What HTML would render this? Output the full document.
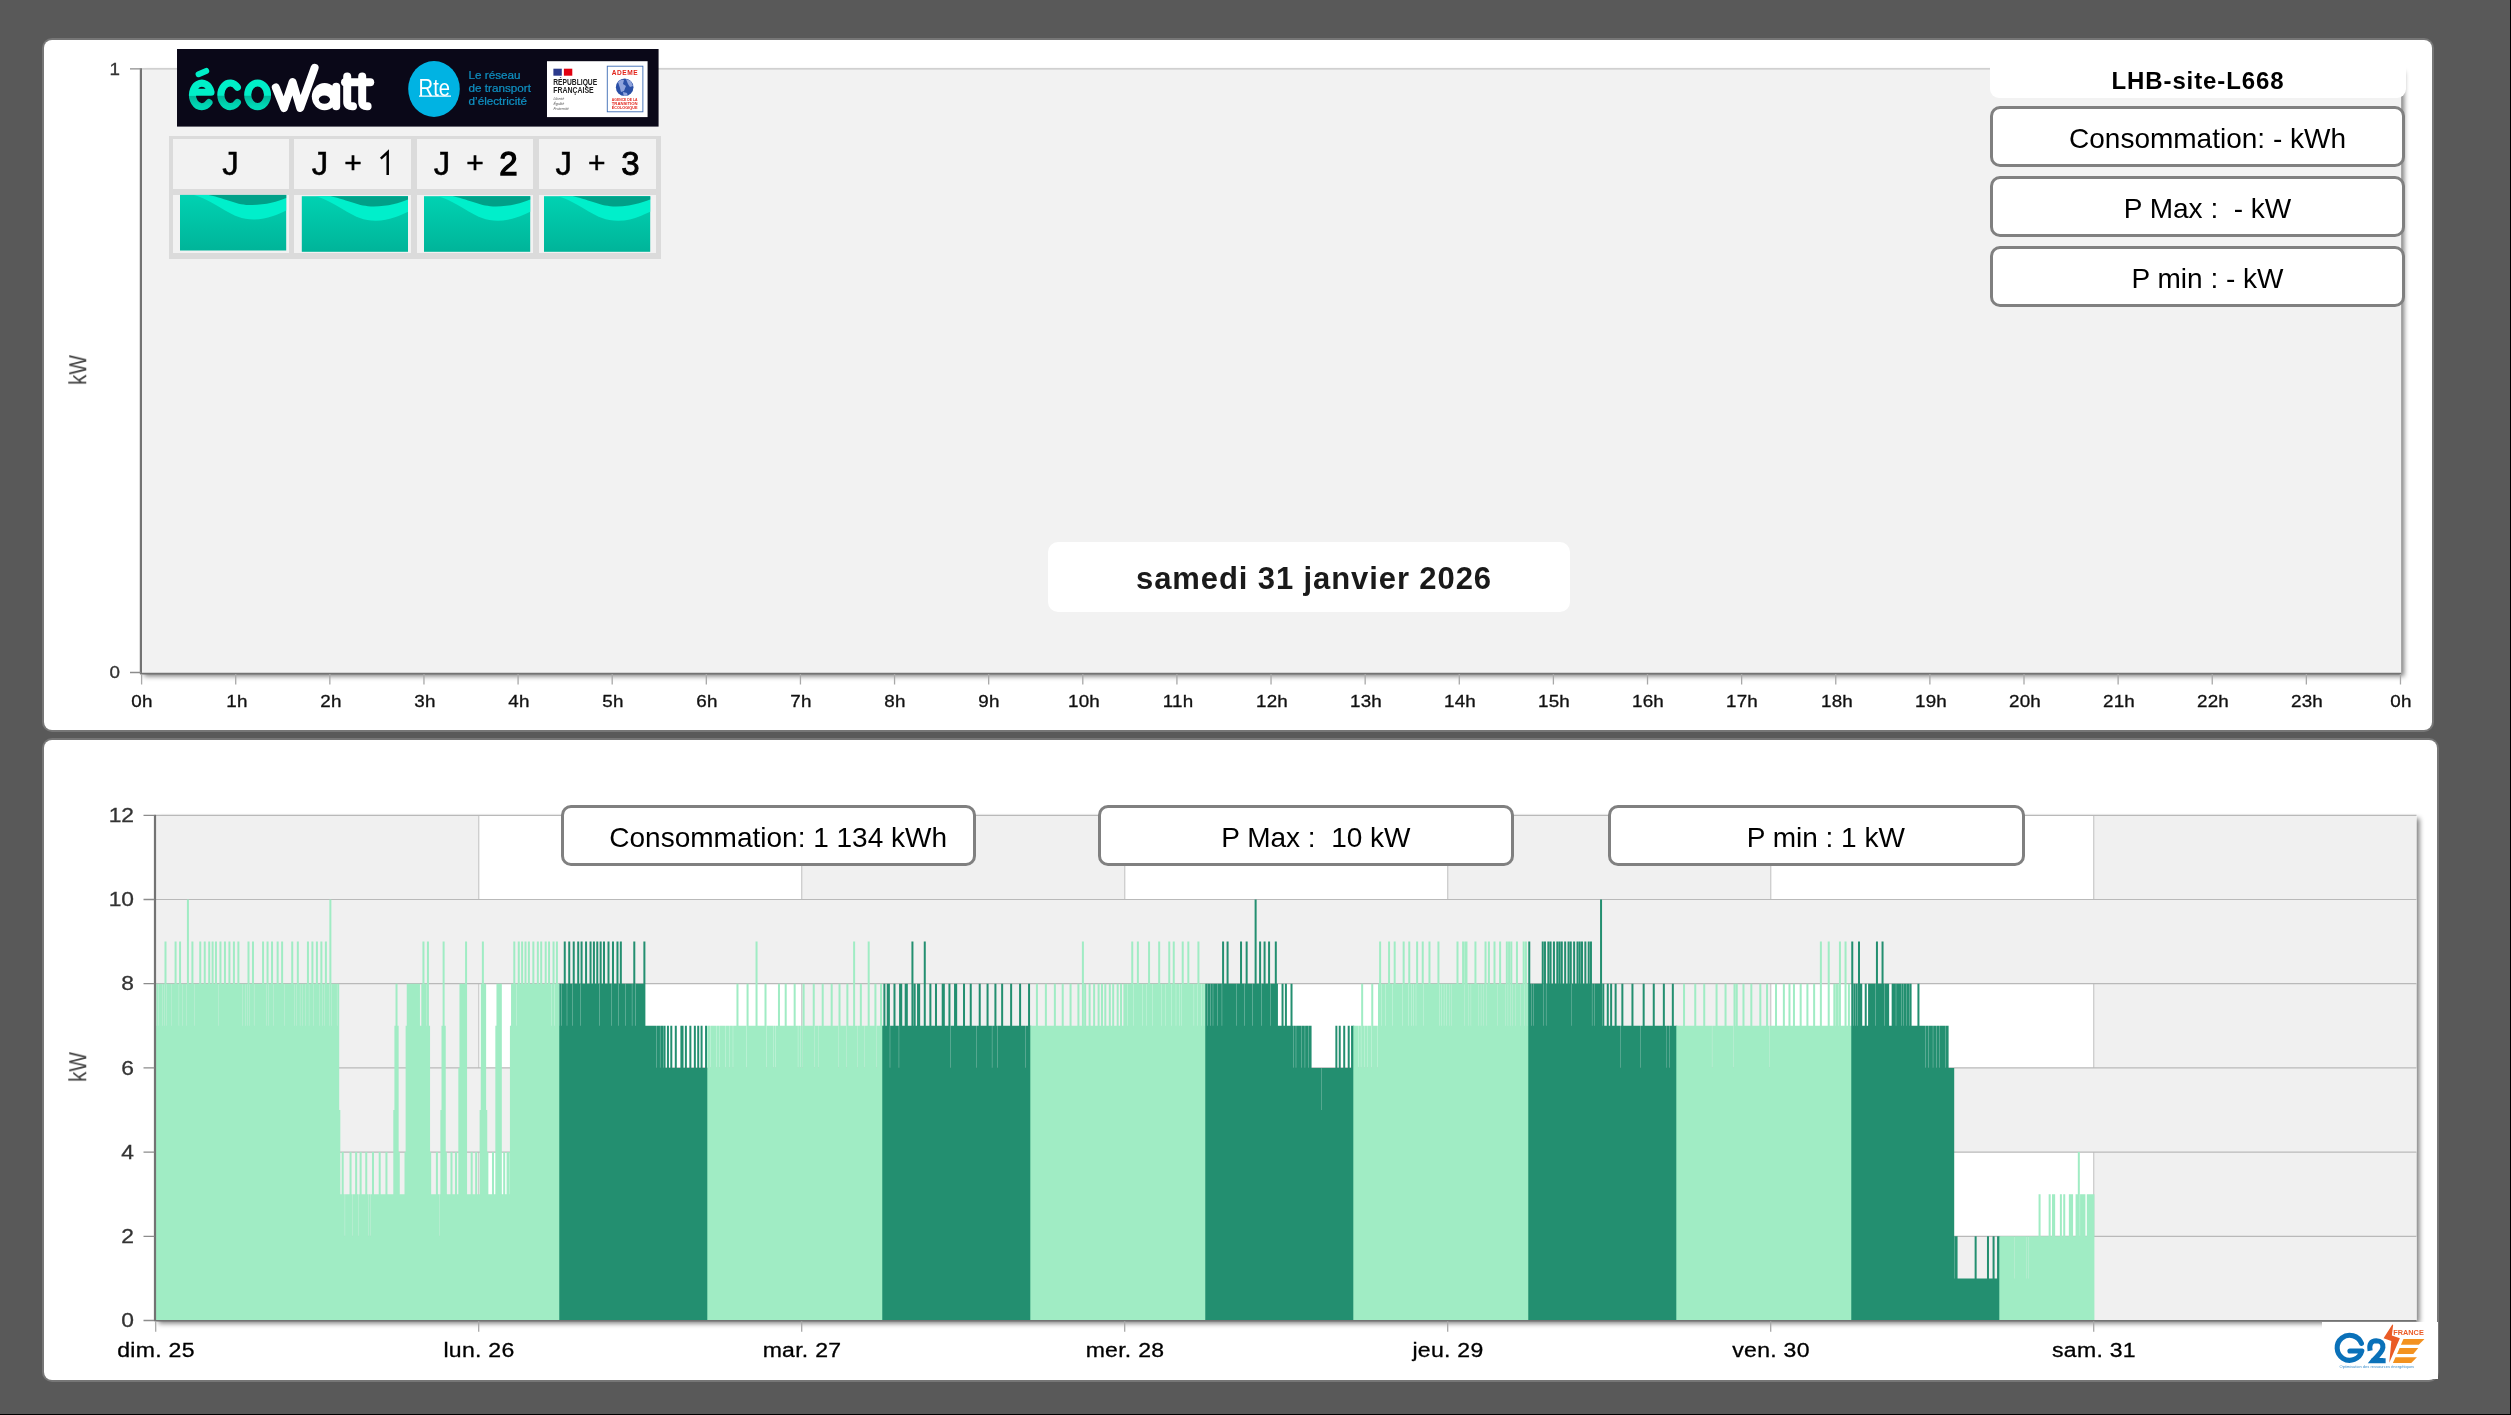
<!DOCTYPE html>
<html lang="fr"><head><meta charset="utf-8"><title>Suivi conso</title>
<style>
html,body{margin:0;padding:0}
body{width:2511px;height:1415px;background:#595959;position:relative;overflow:hidden;font-family:"Liberation Sans",sans-serif;}
.abs{position:absolute}
.panel{position:absolute;background:#fff;border-radius:9px;box-shadow:0 0 0 2px #767676;border-radius:8px}
.box{position:absolute;box-sizing:border-box;background:#fff;border:3px solid #808080;border-radius:10px;font-size:28px;color:#000;text-align:center;white-space:pre;will-change:transform}
.lbl{position:absolute;white-space:nowrap;line-height:1;will-change:transform}
.ax{-webkit-text-stroke:.3px currentColor}
svg{position:absolute;left:0;top:0;overflow:visible;will-change:transform}
text{font-family:"Liberation Sans",sans-serif}
</style></head><body>
<div class="panel" style="left:43.5px;top:39.8px;width:2388.5px;height:690.3px"></div>
<div class="panel" style="left:43.5px;top:740.2px;width:2393px;height:639.8px"></div>
<svg width="2511" height="1415" viewBox="0 0 2511 1415">
<defs><filter id="sh" x="-5%" y="-5%" width="110%" height="110%"><feGaussianBlur stdDeviation="2.6"/></filter></defs>
<rect x="144.2" y="71.8" width="2260" height="604.5" fill="#000" opacity=".5" filter="url(#sh)"/><rect x="141.2" y="68.8" width="2260" height="604.5" fill="#f2f2f2"/><path d="M141.2 68.8H2401.2" stroke="#c4c4c4" stroke-width="1.2" fill="none"/><path d="M140.9 68.3V673.8" stroke="#737373" stroke-width="2.2" fill="none"/><path d="M130 68.8H141.2M130 672.5H141.2" stroke="#8c8c8c" stroke-width="1.3" fill="none"/><path d="M140.2 673.6H2401.2" stroke="#737373" stroke-width="1.6" fill="none"/><path d="M141.6 673.9v10.5M235.72 673.9v10.5M329.84 673.9v10.5M423.96 673.9v10.5M518.08 673.9v10.5M612.2 673.9v10.5M706.32 673.9v10.5M800.44 673.9v10.5M894.56 673.9v10.5M988.68 673.9v10.5M1082.8 673.9v10.5M1176.92 673.9v10.5M1271.04 673.9v10.5M1365.16 673.9v10.5M1459.28 673.9v10.5M1553.4 673.9v10.5M1647.52 673.9v10.5M1741.64 673.9v10.5M1835.76 673.9v10.5M1929.88 673.9v10.5M2024 673.9v10.5M2118.12 673.9v10.5M2212.24 673.9v10.5M2306.36 673.9v10.5M2400.48 673.9v10.5" stroke="#a8a8a8" stroke-width="1.3" fill="none"/><rect x="158.4" y="818.3" width="2261.1" height="505.2" fill="#000" opacity=".5" filter="url(#sh)"/><rect x="155.4" y="815.3" width="2261.1" height="505.2" fill="#fff"/><rect x="155.4" y="815.3" width="323" height="505.2" fill="#f0f0f0"/><rect x="801.4" y="815.3" width="323" height="505.2" fill="#f0f0f0"/><rect x="1447.4" y="815.3" width="323" height="505.2" fill="#f0f0f0"/><rect x="2093.4" y="815.3" width="323" height="505.2" fill="#f0f0f0"/><path d="M478.7 815.3V1320.5M801.7 815.3V1320.5M1124.7 815.3V1320.5M1447.7 815.3V1320.5M1770.7 815.3V1320.5M2093.7 815.3V1320.5" stroke="#cfcfcf" stroke-width="1.4" fill="none"/><rect x="155.4" y="899.5" width="2261.1" height="84.2" fill="#f0f0f0"/><rect x="155.4" y="1067.9" width="2261.1" height="84.2" fill="#f0f0f0"/><rect x="155.4" y="1236.3" width="2261.1" height="84.2" fill="#f0f0f0"/><path d="M155.4 1236.3H2416.5M155.4 1152.1H2416.5M155.4 1067.9H2416.5M155.4 983.7H2416.5M155.4 899.5H2416.5M155.4 815.3H2416.5" stroke="#b9b9b9" stroke-width="1.2" fill="none"/><g transform="translate(0,1320.5)"><path fill="#a0ecc4" d="M155.4 0v-336.8h1v336.8zM155.52 0v-294.7h2v294.7zM156.64 0v-336.8h2v336.8zM157.76 0v-294.7h2v294.7zM158.89 0v-336.8h2v336.8zM160.01 0v-336.8h2v336.8zM161.13 0v-294.7h2v294.7zM162.25 0v-336.8h2v336.8zM163.37 0v-294.7h2v294.7zM164.49 0v-378.9h2v378.9zM165.62 0v-294.7h2v294.7zM166.74 0v-336.8h2v336.8zM167.86 0v-336.8h2v336.8zM168.98 0v-336.8h2v336.8zM170.1 0v-294.7h2v294.7zM171.22 0v-336.8h2v336.8zM172.34 0v-336.8h2v336.8zM173.47 0v-336.8h2v336.8zM174.59 0v-378.9h2v378.9zM175.71 0v-336.8h2v336.8zM176.83 0v-336.8h2v336.8zM177.95 0v-294.7h2v294.7zM179.07 0v-378.9h2v378.9zM180.2 0v-336.8h2v336.8zM181.32 0v-294.7h2v294.7zM182.44 0v-336.8h2v336.8zM183.56 0v-336.8h2v336.8zM184.68 0v-336.8h2v336.8zM185.8 0v-294.7h2v294.7zM186.92 0v-421h2v421zM188.05 0v-336.8h2v336.8zM189.17 0v-336.8h2v336.8zM190.29 0v-336.8h2v336.8zM191.41 0v-378.9h2v378.9zM192.53 0v-336.8h2v336.8zM193.65 0v-294.7h2v294.7zM194.78 0v-336.8h2v336.8zM195.9 0v-336.8h2v336.8zM197.02 0v-336.8h2v336.8zM198.14 0v-336.8h2v336.8zM199.26 0v-378.9h2v378.9zM200.38 0v-336.8h2v336.8zM201.5 0v-336.8h2v336.8zM202.63 0v-336.8h2v336.8zM203.75 0v-378.9h2v378.9zM204.87 0v-336.8h2v336.8zM205.99 0v-336.8h2v336.8zM207.11 0v-336.8h2v336.8zM208.23 0v-378.9h2v378.9zM209.35 0v-336.8h2v336.8zM210.48 0v-336.8h2v336.8zM211.6 0v-378.9h2v378.9zM212.72 0v-336.8h2v336.8zM213.84 0v-336.8h2v336.8zM214.96 0v-378.9h2v378.9zM216.08 0v-336.8h2v336.8zM217.21 0v-294.7h2v294.7zM218.33 0v-336.8h2v336.8zM219.45 0v-378.9h2v378.9zM220.57 0v-336.8h2v336.8zM221.69 0v-336.8h2v336.8zM222.81 0v-336.8h2v336.8zM223.93 0v-378.9h2v378.9zM225.06 0v-336.8h2v336.8zM226.18 0v-336.8h2v336.8zM227.3 0v-336.8h2v336.8zM228.42 0v-378.9h2v378.9zM229.54 0v-336.8h2v336.8zM230.66 0v-336.8h2v336.8zM231.79 0v-336.8h2v336.8zM232.91 0v-378.9h2v378.9zM234.03 0v-336.8h2v336.8zM235.15 0v-336.8h2v336.8zM236.27 0v-336.8h2v336.8zM237.39 0v-378.9h2v378.9zM238.51 0v-336.8h2v336.8zM239.64 0v-336.8h2v336.8zM240.76 0v-336.8h2v336.8zM241.88 0v-294.7h2v294.7zM243 0v-336.8h2v336.8zM244.12 0v-294.7h2v294.7zM245.24 0v-336.8h2v336.8zM246.37 0v-294.7h2v294.7zM247.49 0v-378.9h2v378.9zM248.61 0v-294.7h2v294.7zM249.73 0v-336.8h2v336.8zM250.85 0v-336.8h2v336.8zM251.97 0v-378.9h2v378.9zM253.09 0v-294.7h2v294.7zM254.22 0v-336.8h2v336.8zM255.34 0v-336.8h2v336.8zM256.46 0v-336.8h2v336.8zM257.58 0v-336.8h2v336.8zM258.7 0v-336.8h2v336.8zM259.82 0v-336.8h2v336.8zM260.95 0v-336.8h2v336.8zM262.07 0v-378.9h2v378.9zM263.19 0v-336.8h2v336.8zM264.31 0v-336.8h2v336.8zM265.43 0v-294.7h2v294.7zM266.55 0v-378.9h2v378.9zM267.67 0v-294.7h2v294.7zM268.8 0v-336.8h2v336.8zM269.92 0v-336.8h2v336.8zM271.04 0v-378.9h2v378.9zM272.16 0v-294.7h2v294.7zM273.28 0v-336.8h2v336.8zM274.4 0v-336.8h2v336.8zM275.52 0v-336.8h2v336.8zM276.65 0v-378.9h2v378.9zM277.77 0v-336.8h2v336.8zM278.89 0v-336.8h2v336.8zM280.01 0v-336.8h2v336.8zM281.13 0v-378.9h2v378.9zM282.25 0v-336.8h2v336.8zM283.38 0v-294.7h2v294.7zM284.5 0v-336.8h2v336.8zM285.62 0v-336.8h2v336.8zM286.74 0v-336.8h2v336.8zM287.86 0v-336.8h2v336.8zM288.98 0v-336.8h2v336.8zM290.1 0v-336.8h2v336.8zM291.23 0v-378.9h2v378.9zM292.35 0v-336.8h2v336.8zM293.47 0v-294.7h2v294.7zM294.59 0v-336.8h2v336.8zM295.71 0v-294.7h2v294.7zM296.83 0v-378.9h2v378.9zM297.96 0v-336.8h2v336.8zM299.08 0v-294.7h2v294.7zM300.2 0v-336.8h2v336.8zM301.32 0v-294.7h2v294.7zM302.44 0v-336.8h2v336.8zM303.56 0v-336.8h2v336.8zM304.68 0v-294.7h2v294.7zM305.81 0v-336.8h2v336.8zM306.93 0v-378.9h2v378.9zM308.05 0v-294.7h2v294.7zM309.17 0v-336.8h2v336.8zM310.29 0v-336.8h2v336.8zM311.41 0v-378.9h2v378.9zM312.54 0v-294.7h2v294.7zM313.66 0v-336.8h2v336.8zM314.78 0v-336.8h2v336.8zM315.9 0v-378.9h2v378.9zM317.02 0v-336.8h2v336.8zM318.14 0v-294.7h2v294.7zM319.26 0v-336.8h2v336.8zM320.39 0v-378.9h2v378.9zM321.51 0v-294.7h2v294.7zM322.63 0v-336.8h2v336.8zM323.75 0v-294.7h2v294.7zM324.87 0v-378.9h2v378.9zM325.99 0v-336.8h2v336.8zM327.12 0v-336.8h2v336.8zM328.24 0v-294.7h2v294.7zM329.36 0v-421h2v421zM330.48 0v-294.7h2v294.7zM331.6 0v-336.8h2v336.8zM332.72 0v-336.8h2v336.8zM333.84 0v-336.8h2v336.8zM334.97 0v-336.8h2v336.8zM336.09 0v-294.7h2v294.7zM337.21 0v-336.8h2v336.8zM338.33 0v-210.5h2v210.5zM339.45 0v-126.3h2v126.3zM340.57 0v-126.3h2v126.3zM341.7 0v-168.4h2v168.4zM342.82 0v-126.3h2v126.3zM343.94 0v-84.2h2v84.2zM345.06 0v-126.3h2v126.3zM346.18 0v-126.3h2v126.3zM347.3 0v-126.3h2v126.3zM348.42 0v-126.3h2v126.3zM349.55 0v-168.4h2v168.4zM350.67 0v-126.3h2v126.3zM351.79 0v-84.2h2v84.2zM352.91 0v-126.3h2v126.3zM354.03 0v-126.3h2v126.3zM355.15 0v-168.4h2v168.4zM356.27 0v-126.3h2v126.3zM357.4 0v-84.2h2v84.2zM358.52 0v-126.3h2v126.3zM359.64 0v-168.4h2v168.4zM360.76 0v-126.3h2v126.3zM361.88 0v-126.3h2v126.3zM363 0v-126.3h2v126.3zM364.13 0v-126.3h2v126.3zM365.25 0v-168.4h2v168.4zM366.37 0v-126.3h2v126.3zM367.49 0v-84.2h2v84.2zM368.61 0v-126.3h2v126.3zM369.73 0v-84.2h2v84.2zM370.85 0v-126.3h2v126.3zM371.98 0v-168.4h2v168.4zM373.1 0v-126.3h2v126.3zM374.22 0v-126.3h2v126.3zM375.34 0v-126.3h2v126.3zM376.46 0v-126.3h2v126.3zM377.58 0v-126.3h2v126.3zM378.71 0v-168.4h2v168.4zM379.83 0v-126.3h2v126.3zM380.95 0v-126.3h2v126.3zM382.07 0v-126.3h2v126.3zM383.19 0v-126.3h2v126.3zM384.31 0v-126.3h2v126.3zM385.43 0v-168.4h2v168.4zM386.56 0v-126.3h2v126.3zM387.68 0v-126.3h2v126.3zM388.8 0v-126.3h2v126.3zM389.92 0v-126.3h2v126.3zM391.04 0v-126.3h2v126.3zM392.16 0v-126.3h2v126.3zM393.29 0v-210.5h2v210.5zM394.41 0v-294.7h2v294.7zM395.53 0v-336.8h2v336.8zM396.65 0v-294.7h2v294.7zM397.77 0v-168.4h2v168.4zM398.89 0v-126.3h2v126.3zM400.01 0v-126.3h2v126.3zM401.14 0v-126.3h2v126.3zM402.26 0v-126.3h2v126.3zM403.38 0v-126.3h2v126.3zM404.5 0v-168.4h2v168.4zM405.62 0v-294.7h2v294.7zM406.74 0v-336.8h2v336.8zM407.87 0v-336.8h2v336.8zM408.99 0v-336.8h2v336.8zM410.11 0v-336.8h2v336.8zM411.23 0v-336.8h2v336.8zM412.35 0v-336.8h2v336.8zM413.47 0v-336.8h2v336.8zM414.59 0v-336.8h2v336.8zM415.72 0v-336.8h2v336.8zM416.84 0v-336.8h2v336.8zM417.96 0v-336.8h2v336.8zM419.08 0v-294.7h2v294.7zM420.2 0v-294.7h2v294.7zM421.32 0v-336.8h2v336.8zM422.45 0v-378.9h2v378.9zM423.57 0v-336.8h2v336.8zM424.69 0v-336.8h2v336.8zM425.81 0v-294.7h2v294.7zM426.93 0v-378.9h2v378.9zM428.05 0v-294.7h2v294.7zM429.17 0v-168.4h2v168.4zM430.3 0v-126.3h2v126.3zM431.42 0v-126.3h2v126.3zM432.54 0v-126.3h2v126.3zM433.66 0v-126.3h2v126.3zM434.78 0v-126.3h2v126.3zM435.9 0v-168.4h2v168.4zM437.02 0v-126.3h2v126.3zM438.15 0v-84.2h2v84.2zM439.27 0v-126.3h2v126.3zM440.39 0v-210.5h2v210.5zM441.51 0v-294.7h2v294.7zM442.63 0v-378.9h2v378.9zM443.75 0v-294.7h2v294.7zM444.88 0v-168.4h2v168.4zM446 0v-126.3h2v126.3zM447.12 0v-126.3h2v126.3zM448.24 0v-126.3h2v126.3zM449.36 0v-126.3h2v126.3zM450.48 0v-168.4h2v168.4zM451.6 0v-126.3h2v126.3zM452.73 0v-126.3h2v126.3zM453.85 0v-126.3h2v126.3zM454.97 0v-168.4h2v168.4zM456.09 0v-126.3h2v126.3zM457.21 0v-126.3h2v126.3zM458.33 0v-252.6h2v252.6zM459.46 0v-336.8h2v336.8zM460.58 0v-336.8h2v336.8zM461.7 0v-336.8h2v336.8zM462.82 0v-336.8h2v336.8zM463.94 0v-336.8h2v336.8zM465.06 0v-378.9h2v378.9zM466.18 0v-126.3h2v126.3zM467.31 0v-126.3h2v126.3zM468.43 0v-126.3h2v126.3zM469.55 0v-126.3h2v126.3zM470.67 0v-168.4h2v168.4zM471.79 0v-126.3h2v126.3zM472.91 0v-126.3h2v126.3zM474.04 0v-126.3h2v126.3zM475.16 0v-168.4h2v168.4zM476.28 0v-126.3h2v126.3zM477.4 0v-126.3h2v126.3zM478.52 0v-126.3h2v126.3zM479.64 0v-210.5h2v210.5zM480.76 0v-336.8h2v336.8zM481.89 0v-378.9h2v378.9zM483.01 0v-336.8h2v336.8zM484.13 0v-336.8h2v336.8zM485.25 0v-210.5h2v210.5zM486.37 0v-168.4h2v168.4zM487.49 0v-126.3h2v126.3zM488.62 0v-126.3h2v126.3zM489.74 0v-126.3h2v126.3zM490.86 0v-126.3h2v126.3zM491.98 0v-168.4h2v168.4zM493.1 0v-126.3h2v126.3zM494.22 0v-126.3h2v126.3zM495.34 0v-294.7h2v294.7zM496.47 0v-336.8h2v336.8zM497.59 0v-336.8h2v336.8zM498.71 0v-336.8h2v336.8zM499.83 0v-336.8h2v336.8zM500.95 0v-126.3h2v126.3zM502.07 0v-126.3h2v126.3zM503.2 0v-168.4h2v168.4zM504.32 0v-126.3h2v126.3zM505.44 0v-126.3h2v126.3zM506.56 0v-168.4h2v168.4zM507.68 0v-168.4h2v168.4zM508.8 0v-126.3h2v126.3zM509.92 0v-294.7h2v294.7zM511.05 0v-336.8h2v336.8zM512.17 0v-336.8h2v336.8zM513.29 0v-378.9h2v378.9zM514.41 0v-336.8h2v336.8zM515.53 0v-294.7h2v294.7zM516.65 0v-336.8h2v336.8zM517.77 0v-378.9h2v378.9zM518.9 0v-336.8h2v336.8zM520.02 0v-336.8h2v336.8zM521.14 0v-378.9h2v378.9zM522.26 0v-336.8h2v336.8zM523.38 0v-336.8h2v336.8zM524.5 0v-378.9h2v378.9zM525.63 0v-336.8h2v336.8zM526.75 0v-336.8h2v336.8zM527.87 0v-378.9h2v378.9zM528.99 0v-336.8h2v336.8zM530.11 0v-336.8h2v336.8zM531.23 0v-336.8h2v336.8zM532.35 0v-378.9h2v378.9zM533.48 0v-336.8h2v336.8zM534.6 0v-336.8h2v336.8zM535.72 0v-336.8h2v336.8zM536.84 0v-378.9h2v378.9zM537.96 0v-336.8h2v336.8zM539.08 0v-336.8h2v336.8zM540.21 0v-378.9h2v378.9zM541.33 0v-336.8h2v336.8zM542.45 0v-336.8h2v336.8zM543.57 0v-336.8h2v336.8zM544.69 0v-378.9h2v378.9zM545.81 0v-336.8h2v336.8zM546.93 0v-336.8h2v336.8zM548.06 0v-378.9h2v378.9zM549.18 0v-336.8h2v336.8zM550.3 0v-294.7h2v294.7zM551.42 0v-336.8h2v336.8zM552.54 0v-378.9h2v378.9zM553.66 0v-294.7h2v294.7zM554.79 0v-336.8h2v336.8zM555.91 0v-378.9h2v378.9zM557.03 0v-336.8h2v336.8zM558.15 0v-294.7h2v294.7z"/><path fill="#238f70" d="M559.27 0v-336.8h2v336.8zM560.39 0v-294.7h2v294.7zM561.51 0v-336.8h2v336.8zM562.64 0v-336.8h2v336.8zM563.76 0v-378.9h2v378.9zM564.88 0v-336.8h2v336.8zM566 0v-294.7h2v294.7zM567.12 0v-336.8h2v336.8zM568.24 0v-378.9h2v378.9zM569.37 0v-336.8h2v336.8zM570.49 0v-336.8h2v336.8zM571.61 0v-294.7h2v294.7zM572.73 0v-378.9h2v378.9zM573.85 0v-336.8h2v336.8zM574.97 0v-336.8h2v336.8zM576.09 0v-336.8h2v336.8zM577.22 0v-378.9h2v378.9zM578.34 0v-336.8h2v336.8zM579.46 0v-294.7h2v294.7zM580.58 0v-378.9h2v378.9zM581.7 0v-336.8h2v336.8zM582.82 0v-336.8h2v336.8zM583.95 0v-336.8h2v336.8zM585.07 0v-378.9h2v378.9zM586.19 0v-336.8h2v336.8zM587.31 0v-336.8h2v336.8zM588.43 0v-336.8h2v336.8zM589.55 0v-378.9h2v378.9zM590.67 0v-336.8h2v336.8zM591.8 0v-336.8h2v336.8zM592.92 0v-378.9h2v378.9zM594.04 0v-336.8h2v336.8zM595.16 0v-336.8h2v336.8zM596.28 0v-378.9h2v378.9zM597.4 0v-336.8h2v336.8zM598.52 0v-294.7h2v294.7zM599.65 0v-378.9h2v378.9zM600.77 0v-336.8h2v336.8zM601.89 0v-336.8h2v336.8zM603.01 0v-378.9h2v378.9zM604.13 0v-336.8h2v336.8zM605.25 0v-336.8h2v336.8zM606.38 0v-336.8h2v336.8zM607.5 0v-378.9h2v378.9zM608.62 0v-336.8h2v336.8zM609.74 0v-336.8h2v336.8zM610.86 0v-294.7h2v294.7zM611.98 0v-378.9h2v378.9zM613.1 0v-336.8h2v336.8zM614.23 0v-336.8h2v336.8zM615.35 0v-336.8h2v336.8zM616.47 0v-378.9h2v378.9zM617.59 0v-294.7h2v294.7zM618.71 0v-336.8h2v336.8zM619.83 0v-378.9h2v378.9zM620.96 0v-336.8h2v336.8zM622.08 0v-336.8h2v336.8zM623.2 0v-336.8h2v336.8zM624.32 0v-294.7h2v294.7zM625.44 0v-336.8h2v336.8zM626.56 0v-336.8h2v336.8zM627.68 0v-336.8h2v336.8zM628.81 0v-336.8h2v336.8zM629.93 0v-336.8h2v336.8zM631.05 0v-294.7h2v294.7zM632.17 0v-336.8h2v336.8zM633.29 0v-378.9h2v378.9zM634.41 0v-294.7h2v294.7zM635.54 0v-336.8h2v336.8zM636.66 0v-336.8h2v336.8zM637.78 0v-336.8h2v336.8zM638.9 0v-336.8h2v336.8zM640.02 0v-336.8h2v336.8zM641.14 0v-336.8h2v336.8zM642.26 0v-336.8h2v336.8zM643.39 0v-378.9h2v378.9zM644.51 0v-294.7h2v294.7zM645.63 0v-294.7h2v294.7zM646.75 0v-294.7h2v294.7zM647.87 0v-294.7h2v294.7zM648.99 0v-294.7h2v294.7zM650.12 0v-294.7h2v294.7zM651.24 0v-294.7h2v294.7zM652.36 0v-294.7h2v294.7zM653.48 0v-294.7h2v294.7zM654.6 0v-294.7h2v294.7zM655.72 0v-252.6h2v252.6zM656.84 0v-294.7h2v294.7zM657.97 0v-294.7h2v294.7zM659.09 0v-252.6h2v252.6zM660.21 0v-294.7h2v294.7zM661.33 0v-294.7h2v294.7zM662.45 0v-252.6h2v252.6zM663.57 0v-294.7h2v294.7zM664.7 0v-252.6h2v252.6zM665.82 0v-252.6h2v252.6zM666.94 0v-294.7h2v294.7zM668.06 0v-252.6h2v252.6zM669.18 0v-252.6h2v252.6zM670.3 0v-294.7h2v294.7zM671.42 0v-252.6h2v252.6zM672.55 0v-252.6h2v252.6zM673.67 0v-252.6h2v252.6zM674.79 0v-294.7h2v294.7zM675.91 0v-252.6h2v252.6zM677.03 0v-252.6h2v252.6zM678.15 0v-252.6h2v252.6zM679.27 0v-252.6h2v252.6zM680.4 0v-294.7h2v294.7zM681.52 0v-294.7h2v294.7zM682.64 0v-252.6h2v252.6zM683.76 0v-252.6h2v252.6zM684.88 0v-294.7h2v294.7zM686 0v-252.6h2v252.6zM687.13 0v-252.6h2v252.6zM688.25 0v-252.6h2v252.6zM689.37 0v-294.7h2v294.7zM690.49 0v-252.6h2v252.6zM691.61 0v-252.6h2v252.6zM692.73 0v-252.6h2v252.6zM693.85 0v-294.7h2v294.7zM694.98 0v-252.6h2v252.6zM696.1 0v-252.6h2v252.6zM697.22 0v-294.7h2v294.7zM698.34 0v-252.6h2v252.6zM699.46 0v-252.6h2v252.6zM700.58 0v-294.7h2v294.7zM701.71 0v-252.6h2v252.6zM702.83 0v-252.6h2v252.6zM703.95 0v-252.6h2v252.6zM705.07 0v-294.7h2v294.7zM706.19 0v-252.6h2v252.6z"/><path fill="#a0ecc4" d="M707.31 0v-294.7h2v294.7zM708.43 0v-294.7h2v294.7zM709.56 0v-252.6h2v252.6zM710.68 0v-294.7h2v294.7zM711.8 0v-294.7h2v294.7zM712.92 0v-294.7h2v294.7zM714.04 0v-294.7h2v294.7zM715.16 0v-252.6h2v252.6zM716.29 0v-294.7h2v294.7zM717.41 0v-294.7h2v294.7zM718.53 0v-252.6h2v252.6zM719.65 0v-294.7h2v294.7zM720.77 0v-294.7h2v294.7zM721.89 0v-294.7h2v294.7zM723.01 0v-294.7h2v294.7zM724.14 0v-252.6h2v252.6zM725.26 0v-294.7h2v294.7zM726.38 0v-294.7h2v294.7zM727.5 0v-294.7h2v294.7zM728.62 0v-252.6h2v252.6zM729.74 0v-294.7h2v294.7zM730.87 0v-294.7h2v294.7zM731.99 0v-252.6h2v252.6zM733.11 0v-294.7h2v294.7zM734.23 0v-294.7h2v294.7zM735.35 0v-294.7h2v294.7zM736.47 0v-336.8h2v336.8zM737.59 0v-294.7h2v294.7zM738.72 0v-294.7h2v294.7zM739.84 0v-294.7h2v294.7zM740.96 0v-294.7h2v294.7zM742.08 0v-294.7h2v294.7zM743.2 0v-294.7h2v294.7zM744.32 0v-294.7h2v294.7zM745.45 0v-252.6h2v252.6zM746.57 0v-336.8h2v336.8zM747.69 0v-294.7h2v294.7zM748.81 0v-294.7h2v294.7zM749.93 0v-294.7h2v294.7zM751.05 0v-294.7h2v294.7zM752.17 0v-294.7h2v294.7zM753.3 0v-294.7h2v294.7zM754.42 0v-294.7h2v294.7zM755.54 0v-378.9h2v378.9zM756.66 0v-294.7h2v294.7zM757.78 0v-294.7h2v294.7zM758.9 0v-294.7h2v294.7zM760.02 0v-294.7h2v294.7zM761.15 0v-294.7h2v294.7zM762.27 0v-294.7h2v294.7zM763.39 0v-294.7h2v294.7zM764.51 0v-336.8h2v336.8zM765.63 0v-252.6h2v252.6zM766.75 0v-294.7h2v294.7zM767.88 0v-294.7h2v294.7zM769 0v-294.7h2v294.7zM770.12 0v-294.7h2v294.7zM771.24 0v-294.7h2v294.7zM772.36 0v-252.6h2v252.6zM773.48 0v-294.7h2v294.7zM774.6 0v-252.6h2v252.6zM775.73 0v-294.7h2v294.7zM776.85 0v-294.7h2v294.7zM777.97 0v-336.8h2v336.8zM779.09 0v-294.7h2v294.7zM780.21 0v-294.7h2v294.7zM781.33 0v-294.7h2v294.7zM782.46 0v-294.7h2v294.7zM783.58 0v-294.7h2v294.7zM784.7 0v-336.8h2v336.8zM785.82 0v-294.7h2v294.7zM786.94 0v-294.7h2v294.7zM788.06 0v-294.7h2v294.7zM789.18 0v-294.7h2v294.7zM790.31 0v-294.7h2v294.7zM791.43 0v-294.7h2v294.7zM792.55 0v-294.7h2v294.7zM793.67 0v-336.8h2v336.8zM794.79 0v-294.7h2v294.7zM795.91 0v-294.7h2v294.7zM797.04 0v-252.6h2v252.6zM798.16 0v-294.7h2v294.7zM799.28 0v-252.6h2v252.6zM800.4 0v-294.7h2v294.7zM801.52 0v-252.6h2v252.6zM802.64 0v-336.8h2v336.8zM803.76 0v-294.7h2v294.7zM804.89 0v-294.7h2v294.7zM806.01 0v-294.7h2v294.7zM807.13 0v-294.7h2v294.7zM808.25 0v-294.7h2v294.7zM809.37 0v-294.7h2v294.7zM810.49 0v-294.7h2v294.7zM811.62 0v-294.7h2v294.7zM812.74 0v-336.8h2v336.8zM813.86 0v-252.6h2v252.6zM814.98 0v-294.7h2v294.7zM816.1 0v-294.7h2v294.7zM817.22 0v-252.6h2v252.6zM818.34 0v-294.7h2v294.7zM819.47 0v-294.7h2v294.7zM820.59 0v-294.7h2v294.7zM821.71 0v-336.8h2v336.8zM822.83 0v-294.7h2v294.7zM823.95 0v-294.7h2v294.7zM825.07 0v-294.7h2v294.7zM826.2 0v-294.7h2v294.7zM827.32 0v-294.7h2v294.7zM828.44 0v-294.7h2v294.7zM829.56 0v-294.7h2v294.7zM830.68 0v-336.8h2v336.8zM831.8 0v-294.7h2v294.7zM832.92 0v-294.7h2v294.7zM834.05 0v-294.7h2v294.7zM835.17 0v-294.7h2v294.7zM836.29 0v-294.7h2v294.7zM837.41 0v-252.6h2v252.6zM838.53 0v-336.8h2v336.8zM839.65 0v-294.7h2v294.7zM840.77 0v-294.7h2v294.7zM841.9 0v-294.7h2v294.7zM843.02 0v-294.7h2v294.7zM844.14 0v-294.7h2v294.7zM845.26 0v-252.6h2v252.6zM846.38 0v-336.8h2v336.8zM847.5 0v-294.7h2v294.7zM848.63 0v-294.7h2v294.7zM849.75 0v-294.7h2v294.7zM850.87 0v-294.7h2v294.7zM851.99 0v-294.7h2v294.7zM853.11 0v-378.9h2v378.9zM854.23 0v-294.7h2v294.7zM855.35 0v-294.7h2v294.7zM856.48 0v-252.6h2v252.6zM857.6 0v-294.7h2v294.7zM858.72 0v-294.7h2v294.7zM859.84 0v-336.8h2v336.8zM860.96 0v-294.7h2v294.7zM862.08 0v-294.7h2v294.7zM863.21 0v-252.6h2v252.6zM864.33 0v-294.7h2v294.7zM865.45 0v-294.7h2v294.7zM866.57 0v-294.7h2v294.7zM867.69 0v-378.9h2v378.9zM868.81 0v-294.7h2v294.7zM869.93 0v-294.7h2v294.7zM871.06 0v-294.7h2v294.7zM872.18 0v-294.7h2v294.7zM873.3 0v-294.7h2v294.7zM874.42 0v-336.8h2v336.8zM875.54 0v-252.6h2v252.6zM876.66 0v-294.7h2v294.7zM877.79 0v-294.7h2v294.7zM878.91 0v-294.7h2v294.7zM880.03 0v-336.8h2v336.8zM881.15 0v-294.7h2v294.7z"/><path fill="#238f70" d="M882.27 0v-294.7h2v294.7zM883.39 0v-336.8h2v336.8zM884.51 0v-294.7h2v294.7zM885.64 0v-294.7h2v294.7zM886.76 0v-336.8h2v336.8zM887.88 0v-336.8h2v336.8zM889 0v-252.6h2v252.6zM890.12 0v-294.7h2v294.7zM891.24 0v-294.7h2v294.7zM892.37 0v-294.7h2v294.7zM893.49 0v-336.8h2v336.8zM894.61 0v-294.7h2v294.7zM895.73 0v-294.7h2v294.7zM896.85 0v-294.7h2v294.7zM897.97 0v-252.6h2v252.6zM899.09 0v-336.8h2v336.8zM900.22 0v-336.8h2v336.8zM901.34 0v-294.7h2v294.7zM902.46 0v-294.7h2v294.7zM903.58 0v-294.7h2v294.7zM904.7 0v-336.8h2v336.8zM905.82 0v-336.8h2v336.8zM906.95 0v-294.7h2v294.7zM908.07 0v-294.7h2v294.7zM909.19 0v-294.7h2v294.7zM910.31 0v-294.7h2v294.7zM911.43 0v-378.9h2v378.9zM912.55 0v-294.7h2v294.7zM913.67 0v-336.8h2v336.8zM914.8 0v-294.7h2v294.7zM915.92 0v-294.7h2v294.7zM917.04 0v-336.8h2v336.8zM918.16 0v-336.8h2v336.8zM919.28 0v-294.7h2v294.7zM920.4 0v-294.7h2v294.7zM921.52 0v-294.7h2v294.7zM922.65 0v-294.7h2v294.7zM923.77 0v-378.9h2v378.9zM924.89 0v-294.7h2v294.7zM926.01 0v-294.7h2v294.7zM927.13 0v-294.7h2v294.7zM928.25 0v-294.7h2v294.7zM929.38 0v-336.8h2v336.8zM930.5 0v-294.7h2v294.7zM931.62 0v-294.7h2v294.7zM932.74 0v-294.7h2v294.7zM933.86 0v-294.7h2v294.7zM934.98 0v-336.8h2v336.8zM936.1 0v-294.7h2v294.7zM937.23 0v-294.7h2v294.7zM938.35 0v-294.7h2v294.7zM939.47 0v-294.7h2v294.7zM940.59 0v-294.7h2v294.7zM941.71 0v-336.8h2v336.8zM942.83 0v-336.8h2v336.8zM943.96 0v-294.7h2v294.7zM945.08 0v-294.7h2v294.7zM946.2 0v-294.7h2v294.7zM947.32 0v-294.7h2v294.7zM948.44 0v-336.8h2v336.8zM949.56 0v-252.6h2v252.6zM950.68 0v-294.7h2v294.7zM951.81 0v-294.7h2v294.7zM952.93 0v-294.7h2v294.7zM954.05 0v-336.8h2v336.8zM955.17 0v-336.8h2v336.8zM956.29 0v-294.7h2v294.7zM957.41 0v-294.7h2v294.7zM958.54 0v-294.7h2v294.7zM959.66 0v-294.7h2v294.7zM960.78 0v-294.7h2v294.7zM961.9 0v-294.7h2v294.7zM963.02 0v-336.8h2v336.8zM964.14 0v-294.7h2v294.7zM965.26 0v-294.7h2v294.7zM966.39 0v-294.7h2v294.7zM967.51 0v-294.7h2v294.7zM968.63 0v-294.7h2v294.7zM969.75 0v-336.8h2v336.8zM970.87 0v-294.7h2v294.7zM971.99 0v-294.7h2v294.7zM973.12 0v-294.7h2v294.7zM974.24 0v-294.7h2v294.7zM975.36 0v-252.6h2v252.6zM976.48 0v-294.7h2v294.7zM977.6 0v-294.7h2v294.7zM978.72 0v-336.8h2v336.8zM979.84 0v-294.7h2v294.7zM980.97 0v-294.7h2v294.7zM982.09 0v-294.7h2v294.7zM983.21 0v-294.7h2v294.7zM984.33 0v-294.7h2v294.7zM985.45 0v-294.7h2v294.7zM986.57 0v-336.8h2v336.8zM987.7 0v-294.7h2v294.7zM988.82 0v-294.7h2v294.7zM989.94 0v-294.7h2v294.7zM991.06 0v-252.6h2v252.6zM992.18 0v-294.7h2v294.7zM993.3 0v-294.7h2v294.7zM994.42 0v-336.8h2v336.8zM995.55 0v-294.7h2v294.7zM996.67 0v-252.6h2v252.6zM997.79 0v-294.7h2v294.7zM998.91 0v-294.7h2v294.7zM1000.03 0v-294.7h2v294.7zM1001.15 0v-336.8h2v336.8zM1002.27 0v-294.7h2v294.7zM1003.4 0v-294.7h2v294.7zM1004.52 0v-294.7h2v294.7zM1005.64 0v-294.7h2v294.7zM1006.76 0v-294.7h2v294.7zM1007.88 0v-294.7h2v294.7zM1009 0v-294.7h2v294.7zM1010.13 0v-336.8h2v336.8zM1011.25 0v-294.7h2v294.7zM1012.37 0v-294.7h2v294.7zM1013.49 0v-294.7h2v294.7zM1014.61 0v-294.7h2v294.7zM1015.73 0v-294.7h2v294.7zM1016.85 0v-294.7h2v294.7zM1017.98 0v-294.7h2v294.7zM1019.1 0v-336.8h2v336.8zM1020.22 0v-294.7h2v294.7zM1021.34 0v-294.7h2v294.7zM1022.46 0v-294.7h2v294.7zM1023.58 0v-294.7h2v294.7zM1024.71 0v-252.6h2v252.6zM1025.83 0v-294.7h2v294.7zM1026.95 0v-294.7h2v294.7zM1028.07 0v-336.8h2v336.8zM1029.19 0v-294.7h2v294.7z"/><path fill="#a0ecc4" d="M1030.31 0v-294.7h2v294.7zM1031.43 0v-294.7h2v294.7zM1032.56 0v-294.7h2v294.7zM1033.68 0v-294.7h2v294.7zM1034.8 0v-294.7h2v294.7zM1035.92 0v-336.8h2v336.8zM1037.04 0v-294.7h2v294.7zM1038.16 0v-294.7h2v294.7zM1039.29 0v-294.7h2v294.7zM1040.41 0v-294.7h2v294.7zM1041.53 0v-294.7h2v294.7zM1042.65 0v-294.7h2v294.7zM1043.77 0v-294.7h2v294.7zM1044.89 0v-336.8h2v336.8zM1046.01 0v-294.7h2v294.7zM1047.14 0v-294.7h2v294.7zM1048.26 0v-294.7h2v294.7zM1049.38 0v-294.7h2v294.7zM1050.5 0v-294.7h2v294.7zM1051.62 0v-294.7h2v294.7zM1052.74 0v-294.7h2v294.7zM1053.87 0v-336.8h2v336.8zM1054.99 0v-294.7h2v294.7zM1056.11 0v-294.7h2v294.7zM1057.23 0v-294.7h2v294.7zM1058.35 0v-294.7h2v294.7zM1059.47 0v-294.7h2v294.7zM1060.59 0v-294.7h2v294.7zM1061.72 0v-336.8h2v336.8zM1062.84 0v-294.7h2v294.7zM1063.96 0v-294.7h2v294.7zM1065.08 0v-294.7h2v294.7zM1066.2 0v-294.7h2v294.7zM1067.32 0v-294.7h2v294.7zM1068.45 0v-294.7h2v294.7zM1069.57 0v-336.8h2v336.8zM1070.69 0v-294.7h2v294.7zM1071.81 0v-294.7h2v294.7zM1072.93 0v-294.7h2v294.7zM1074.05 0v-294.7h2v294.7zM1075.17 0v-294.7h2v294.7zM1076.3 0v-294.7h2v294.7zM1077.42 0v-336.8h2v336.8zM1078.54 0v-294.7h2v294.7zM1079.66 0v-294.7h2v294.7zM1080.78 0v-294.7h2v294.7zM1081.9 0v-378.9h2v378.9zM1083.02 0v-294.7h2v294.7zM1084.15 0v-336.8h2v336.8zM1085.27 0v-294.7h2v294.7zM1086.39 0v-294.7h2v294.7zM1087.51 0v-294.7h2v294.7zM1088.63 0v-336.8h2v336.8zM1089.75 0v-294.7h2v294.7zM1090.88 0v-294.7h2v294.7zM1092 0v-294.7h2v294.7zM1093.12 0v-336.8h2v336.8zM1094.24 0v-294.7h2v294.7zM1095.36 0v-294.7h2v294.7zM1096.48 0v-294.7h2v294.7zM1097.6 0v-336.8h2v336.8zM1098.73 0v-294.7h2v294.7zM1099.85 0v-294.7h2v294.7zM1100.97 0v-336.8h2v336.8zM1102.09 0v-294.7h2v294.7zM1103.21 0v-294.7h2v294.7zM1104.33 0v-336.8h2v336.8zM1105.46 0v-294.7h2v294.7zM1106.58 0v-294.7h2v294.7zM1107.7 0v-294.7h2v294.7zM1108.82 0v-336.8h2v336.8zM1109.94 0v-294.7h2v294.7zM1111.06 0v-294.7h2v294.7zM1112.18 0v-336.8h2v336.8zM1113.31 0v-294.7h2v294.7zM1114.43 0v-294.7h2v294.7zM1115.55 0v-294.7h2v294.7zM1116.67 0v-336.8h2v336.8zM1117.79 0v-294.7h2v294.7zM1118.91 0v-294.7h2v294.7zM1120.04 0v-336.8h2v336.8zM1121.16 0v-294.7h2v294.7zM1122.28 0v-294.7h2v294.7zM1123.4 0v-336.8h2v336.8zM1124.52 0v-336.8h2v336.8zM1125.64 0v-336.8h2v336.8zM1126.76 0v-294.7h2v294.7zM1127.89 0v-336.8h2v336.8zM1129.01 0v-336.8h2v336.8zM1130.13 0v-336.8h2v336.8zM1131.25 0v-378.9h2v378.9zM1132.37 0v-294.7h2v294.7zM1133.49 0v-336.8h2v336.8zM1134.62 0v-336.8h2v336.8zM1135.74 0v-336.8h2v336.8zM1136.86 0v-378.9h2v378.9zM1137.98 0v-336.8h2v336.8zM1139.1 0v-336.8h2v336.8zM1140.22 0v-336.8h2v336.8zM1141.34 0v-294.7h2v294.7zM1142.47 0v-336.8h2v336.8zM1143.59 0v-336.8h2v336.8zM1144.71 0v-336.8h2v336.8zM1145.83 0v-294.7h2v294.7zM1146.95 0v-336.8h2v336.8zM1148.07 0v-378.9h2v378.9zM1149.2 0v-336.8h2v336.8zM1150.32 0v-336.8h2v336.8zM1151.44 0v-294.7h2v294.7zM1152.56 0v-336.8h2v336.8zM1153.68 0v-336.8h2v336.8zM1154.8 0v-336.8h2v336.8zM1155.92 0v-336.8h2v336.8zM1157.05 0v-336.8h2v336.8zM1158.17 0v-378.9h2v378.9zM1159.29 0v-336.8h2v336.8zM1160.41 0v-294.7h2v294.7zM1161.53 0v-336.8h2v336.8zM1162.65 0v-336.8h2v336.8zM1163.77 0v-336.8h2v336.8zM1164.9 0v-294.7h2v294.7zM1166.02 0v-336.8h2v336.8zM1167.14 0v-336.8h2v336.8zM1168.26 0v-378.9h2v378.9zM1169.38 0v-336.8h2v336.8zM1170.5 0v-294.7h2v294.7zM1171.63 0v-336.8h2v336.8zM1172.75 0v-378.9h2v378.9zM1173.87 0v-336.8h2v336.8zM1174.99 0v-294.7h2v294.7zM1176.11 0v-336.8h2v336.8zM1177.23 0v-336.8h2v336.8zM1178.35 0v-294.7h2v294.7zM1179.48 0v-336.8h2v336.8zM1180.6 0v-294.7h2v294.7zM1181.72 0v-378.9h2v378.9zM1182.84 0v-336.8h2v336.8zM1183.96 0v-336.8h2v336.8zM1185.08 0v-336.8h2v336.8zM1186.21 0v-336.8h2v336.8zM1187.33 0v-378.9h2v378.9zM1188.45 0v-336.8h2v336.8zM1189.57 0v-336.8h2v336.8zM1190.69 0v-336.8h2v336.8zM1191.81 0v-336.8h2v336.8zM1192.93 0v-294.7h2v294.7zM1194.06 0v-336.8h2v336.8zM1195.18 0v-336.8h2v336.8zM1196.3 0v-294.7h2v294.7zM1197.42 0v-378.9h2v378.9zM1198.54 0v-336.8h2v336.8zM1199.66 0v-336.8h2v336.8zM1200.79 0v-294.7h2v294.7zM1201.91 0v-336.8h2v336.8zM1203.03 0v-294.7h2v294.7zM1204.15 0v-336.8h2v336.8z"/><path fill="#238f70" d="M1205.27 0v-336.8h2v336.8zM1206.39 0v-294.7h2v294.7zM1207.51 0v-336.8h2v336.8zM1208.64 0v-336.8h2v336.8zM1209.76 0v-294.7h2v294.7zM1210.88 0v-336.8h2v336.8zM1212 0v-294.7h2v294.7zM1213.12 0v-336.8h2v336.8zM1214.24 0v-336.8h2v336.8zM1215.37 0v-336.8h2v336.8zM1216.49 0v-294.7h2v294.7zM1217.61 0v-336.8h2v336.8zM1218.73 0v-336.8h2v336.8zM1219.85 0v-336.8h2v336.8zM1220.97 0v-294.7h2v294.7zM1222.09 0v-378.9h2v378.9zM1223.22 0v-336.8h2v336.8zM1224.34 0v-336.8h2v336.8zM1225.46 0v-336.8h2v336.8zM1226.58 0v-378.9h2v378.9zM1227.7 0v-336.8h2v336.8zM1228.82 0v-336.8h2v336.8zM1229.95 0v-336.8h2v336.8zM1231.07 0v-336.8h2v336.8zM1232.19 0v-336.8h2v336.8zM1233.31 0v-336.8h2v336.8zM1234.43 0v-336.8h2v336.8zM1235.55 0v-294.7h2v294.7zM1236.67 0v-336.8h2v336.8zM1237.8 0v-336.8h2v336.8zM1238.92 0v-336.8h2v336.8zM1240.04 0v-378.9h2v378.9zM1241.16 0v-336.8h2v336.8zM1242.28 0v-336.8h2v336.8zM1243.4 0v-294.7h2v294.7zM1244.53 0v-336.8h2v336.8zM1245.65 0v-378.9h2v378.9zM1246.77 0v-336.8h2v336.8zM1247.89 0v-336.8h2v336.8zM1249.01 0v-336.8h2v336.8zM1250.13 0v-336.8h2v336.8zM1251.25 0v-294.7h2v294.7zM1252.38 0v-336.8h2v336.8zM1253.5 0v-336.8h2v336.8zM1254.62 0v-421h2v421zM1255.74 0v-336.8h2v336.8zM1256.86 0v-336.8h2v336.8zM1257.98 0v-336.8h2v336.8zM1259.1 0v-378.9h2v378.9zM1260.23 0v-294.7h2v294.7zM1261.35 0v-336.8h2v336.8zM1262.47 0v-336.8h2v336.8zM1263.59 0v-378.9h2v378.9zM1264.71 0v-336.8h2v336.8zM1265.83 0v-336.8h2v336.8zM1266.96 0v-336.8h2v336.8zM1268.08 0v-378.9h2v378.9zM1269.2 0v-294.7h2v294.7zM1270.32 0v-336.8h2v336.8zM1271.44 0v-336.8h2v336.8zM1272.56 0v-336.8h2v336.8zM1273.68 0v-336.8h2v336.8zM1274.81 0v-378.9h2v378.9zM1275.93 0v-336.8h2v336.8zM1277.05 0v-294.7h2v294.7zM1278.17 0v-294.7h2v294.7zM1279.29 0v-294.7h2v294.7zM1280.41 0v-294.7h2v294.7zM1281.54 0v-336.8h2v336.8zM1282.66 0v-294.7h2v294.7zM1283.78 0v-294.7h2v294.7zM1284.9 0v-336.8h2v336.8zM1286.02 0v-294.7h2v294.7zM1287.14 0v-294.7h2v294.7zM1288.26 0v-294.7h2v294.7zM1289.39 0v-294.7h2v294.7zM1290.51 0v-336.8h2v336.8zM1291.63 0v-294.7h2v294.7zM1292.75 0v-252.6h2v252.6zM1293.87 0v-294.7h2v294.7zM1294.99 0v-252.6h2v252.6zM1296.12 0v-294.7h2v294.7zM1297.24 0v-294.7h2v294.7zM1298.36 0v-294.7h2v294.7zM1299.48 0v-294.7h2v294.7zM1300.6 0v-252.6h2v252.6zM1301.72 0v-294.7h2v294.7zM1302.84 0v-294.7h2v294.7zM1303.97 0v-252.6h2v252.6zM1305.09 0v-294.7h2v294.7zM1306.21 0v-294.7h2v294.7zM1307.33 0v-252.6h2v252.6zM1308.45 0v-294.7h2v294.7zM1309.57 0v-294.7h2v294.7zM1310.7 0v-252.6h2v252.6zM1311.82 0v-252.6h2v252.6zM1312.94 0v-252.6h2v252.6zM1314.06 0v-252.6h2v252.6zM1315.18 0v-252.6h2v252.6zM1316.3 0v-252.6h2v252.6zM1317.42 0v-252.6h2v252.6zM1318.55 0v-252.6h2v252.6zM1319.67 0v-252.6h2v252.6zM1320.79 0v-210.5h2v210.5zM1321.91 0v-252.6h2v252.6zM1323.03 0v-252.6h2v252.6zM1324.15 0v-252.6h2v252.6zM1325.28 0v-252.6h2v252.6zM1326.4 0v-252.6h2v252.6zM1327.52 0v-252.6h2v252.6zM1328.64 0v-252.6h2v252.6zM1329.76 0v-252.6h2v252.6zM1330.88 0v-252.6h2v252.6zM1332 0v-252.6h2v252.6zM1333.13 0v-252.6h2v252.6zM1334.25 0v-252.6h2v252.6zM1335.37 0v-294.7h2v294.7zM1336.49 0v-252.6h2v252.6zM1337.61 0v-252.6h2v252.6zM1338.73 0v-294.7h2v294.7zM1339.85 0v-252.6h2v252.6zM1340.98 0v-252.6h2v252.6zM1342.1 0v-252.6h2v252.6zM1343.22 0v-294.7h2v294.7zM1344.34 0v-252.6h2v252.6zM1345.46 0v-252.6h2v252.6zM1346.58 0v-252.6h2v252.6zM1347.71 0v-294.7h2v294.7zM1348.83 0v-252.6h2v252.6zM1349.95 0v-252.6h2v252.6zM1351.07 0v-294.7h2v294.7zM1352.19 0v-294.7h2v294.7z"/><path fill="#a0ecc4" d="M1353.31 0v-294.7h2v294.7zM1354.43 0v-294.7h2v294.7zM1355.56 0v-294.7h2v294.7zM1356.68 0v-294.7h2v294.7zM1357.8 0v-252.6h2v252.6zM1358.92 0v-294.7h2v294.7zM1360.04 0v-252.6h2v252.6zM1361.16 0v-336.8h2v336.8zM1362.29 0v-294.7h2v294.7zM1363.41 0v-252.6h2v252.6zM1364.53 0v-294.7h2v294.7zM1365.65 0v-294.7h2v294.7zM1366.77 0v-252.6h2v252.6zM1367.89 0v-294.7h2v294.7zM1369.01 0v-294.7h2v294.7zM1370.14 0v-252.6h2v252.6zM1371.26 0v-336.8h2v336.8zM1372.38 0v-294.7h2v294.7zM1373.5 0v-294.7h2v294.7zM1374.62 0v-294.7h2v294.7zM1375.74 0v-294.7h2v294.7zM1376.87 0v-252.6h2v252.6zM1377.99 0v-336.8h2v336.8zM1379.11 0v-378.9h2v378.9zM1380.23 0v-294.7h2v294.7zM1381.35 0v-336.8h2v336.8zM1382.47 0v-336.8h2v336.8zM1383.59 0v-336.8h2v336.8zM1384.72 0v-294.7h2v294.7zM1385.84 0v-336.8h2v336.8zM1386.96 0v-336.8h2v336.8zM1388.08 0v-378.9h2v378.9zM1389.2 0v-336.8h2v336.8zM1390.32 0v-336.8h2v336.8zM1391.45 0v-294.7h2v294.7zM1392.57 0v-336.8h2v336.8zM1393.69 0v-378.9h2v378.9zM1394.81 0v-336.8h2v336.8zM1395.93 0v-336.8h2v336.8zM1397.05 0v-336.8h2v336.8zM1398.17 0v-336.8h2v336.8zM1399.3 0v-336.8h2v336.8zM1400.42 0v-336.8h2v336.8zM1401.54 0v-294.7h2v294.7zM1402.66 0v-378.9h2v378.9zM1403.78 0v-336.8h2v336.8zM1404.9 0v-336.8h2v336.8zM1406.03 0v-336.8h2v336.8zM1407.15 0v-294.7h2v294.7zM1408.27 0v-378.9h2v378.9zM1409.39 0v-336.8h2v336.8zM1410.51 0v-294.7h2v294.7zM1411.63 0v-336.8h2v336.8zM1412.75 0v-294.7h2v294.7zM1413.88 0v-336.8h2v336.8zM1415 0v-294.7h2v294.7zM1416.12 0v-378.9h2v378.9zM1417.24 0v-336.8h2v336.8zM1418.36 0v-336.8h2v336.8zM1419.48 0v-336.8h2v336.8zM1420.6 0v-336.8h2v336.8zM1421.73 0v-378.9h2v378.9zM1422.85 0v-294.7h2v294.7zM1423.97 0v-336.8h2v336.8zM1425.09 0v-336.8h2v336.8zM1426.21 0v-336.8h2v336.8zM1427.33 0v-336.8h2v336.8zM1428.46 0v-378.9h2v378.9zM1429.58 0v-336.8h2v336.8zM1430.7 0v-336.8h2v336.8zM1431.82 0v-336.8h2v336.8zM1432.94 0v-336.8h2v336.8zM1434.06 0v-336.8h2v336.8zM1435.18 0v-336.8h2v336.8zM1436.31 0v-336.8h2v336.8zM1437.43 0v-378.9h2v378.9zM1438.55 0v-294.7h2v294.7zM1439.67 0v-336.8h2v336.8zM1440.79 0v-294.7h2v294.7zM1441.91 0v-336.8h2v336.8zM1443.04 0v-294.7h2v294.7zM1444.16 0v-336.8h2v336.8zM1445.28 0v-294.7h2v294.7zM1446.4 0v-336.8h2v336.8zM1447.52 0v-336.8h2v336.8zM1448.64 0v-294.7h2v294.7zM1449.76 0v-336.8h2v336.8zM1450.89 0v-294.7h2v294.7zM1452.01 0v-336.8h2v336.8zM1453.13 0v-336.8h2v336.8zM1454.25 0v-336.8h2v336.8zM1455.37 0v-336.8h2v336.8zM1456.49 0v-378.9h2v378.9zM1457.62 0v-336.8h2v336.8zM1458.74 0v-336.8h2v336.8zM1459.86 0v-336.8h2v336.8zM1460.98 0v-336.8h2v336.8zM1462.1 0v-378.9h2v378.9zM1463.22 0v-294.7h2v294.7zM1464.34 0v-378.9h2v378.9zM1465.47 0v-378.9h2v378.9zM1466.59 0v-336.8h2v336.8zM1467.71 0v-294.7h2v294.7zM1468.83 0v-336.8h2v336.8zM1469.95 0v-294.7h2v294.7zM1471.07 0v-336.8h2v336.8zM1472.2 0v-336.8h2v336.8zM1473.32 0v-336.8h2v336.8zM1474.44 0v-378.9h2v378.9zM1475.56 0v-336.8h2v336.8zM1476.68 0v-336.8h2v336.8zM1477.8 0v-294.7h2v294.7zM1478.92 0v-336.8h2v336.8zM1480.05 0v-294.7h2v294.7zM1481.17 0v-336.8h2v336.8zM1482.29 0v-294.7h2v294.7zM1483.41 0v-336.8h2v336.8zM1484.53 0v-378.9h2v378.9zM1485.65 0v-294.7h2v294.7zM1486.77 0v-336.8h2v336.8zM1487.9 0v-378.9h2v378.9zM1489.02 0v-336.8h2v336.8zM1490.14 0v-336.8h2v336.8zM1491.26 0v-336.8h2v336.8zM1492.38 0v-336.8h2v336.8zM1493.5 0v-378.9h2v378.9zM1494.63 0v-336.8h2v336.8zM1495.75 0v-336.8h2v336.8zM1496.87 0v-294.7h2v294.7zM1497.99 0v-336.8h2v336.8zM1499.11 0v-378.9h2v378.9zM1500.23 0v-336.8h2v336.8zM1501.35 0v-336.8h2v336.8zM1502.48 0v-336.8h2v336.8zM1503.6 0v-336.8h2v336.8zM1504.72 0v-294.7h2v294.7zM1505.84 0v-378.9h2v378.9zM1506.96 0v-294.7h2v294.7zM1508.08 0v-378.9h2v378.9zM1509.21 0v-294.7h2v294.7zM1510.33 0v-378.9h2v378.9zM1511.45 0v-294.7h2v294.7zM1512.57 0v-336.8h2v336.8zM1513.69 0v-336.8h2v336.8zM1514.81 0v-294.7h2v294.7zM1515.93 0v-378.9h2v378.9zM1517.06 0v-336.8h2v336.8zM1518.18 0v-336.8h2v336.8zM1519.3 0v-294.7h2v294.7zM1520.42 0v-336.8h2v336.8zM1521.54 0v-336.8h2v336.8zM1522.66 0v-378.9h2v378.9zM1523.79 0v-294.7h2v294.7zM1524.91 0v-378.9h2v378.9zM1526.03 0v-294.7h2v294.7zM1527.15 0v-336.8h2v336.8z"/><path fill="#238f70" d="M1528.27 0v-378.9h2v378.9zM1529.39 0v-336.8h2v336.8zM1530.51 0v-294.7h2v294.7zM1531.64 0v-336.8h2v336.8zM1532.76 0v-294.7h2v294.7zM1533.88 0v-336.8h2v336.8zM1535 0v-336.8h2v336.8zM1536.12 0v-336.8h2v336.8zM1537.24 0v-336.8h2v336.8zM1538.37 0v-336.8h2v336.8zM1539.49 0v-336.8h2v336.8zM1540.61 0v-336.8h2v336.8zM1541.73 0v-378.9h2v378.9zM1542.85 0v-294.7h2v294.7zM1543.97 0v-378.9h2v378.9zM1545.09 0v-294.7h2v294.7zM1546.22 0v-336.8h2v336.8zM1547.34 0v-378.9h2v378.9zM1548.46 0v-336.8h2v336.8zM1549.58 0v-378.9h2v378.9zM1550.7 0v-336.8h2v336.8zM1551.82 0v-336.8h2v336.8zM1552.95 0v-378.9h2v378.9zM1554.07 0v-336.8h2v336.8zM1555.19 0v-336.8h2v336.8zM1556.31 0v-378.9h2v378.9zM1557.43 0v-336.8h2v336.8zM1558.55 0v-378.9h2v378.9zM1559.67 0v-336.8h2v336.8zM1560.8 0v-378.9h2v378.9zM1561.92 0v-336.8h2v336.8zM1563.04 0v-336.8h2v336.8zM1564.16 0v-378.9h2v378.9zM1565.28 0v-336.8h2v336.8zM1566.4 0v-336.8h2v336.8zM1567.52 0v-378.9h2v378.9zM1568.65 0v-336.8h2v336.8zM1569.77 0v-378.9h2v378.9zM1570.89 0v-294.7h2v294.7zM1572.01 0v-336.8h2v336.8zM1573.13 0v-378.9h2v378.9zM1574.25 0v-336.8h2v336.8zM1575.38 0v-336.8h2v336.8zM1576.5 0v-378.9h2v378.9zM1577.62 0v-336.8h2v336.8zM1578.74 0v-378.9h2v378.9zM1579.86 0v-336.8h2v336.8zM1580.98 0v-378.9h2v378.9zM1582.1 0v-336.8h2v336.8zM1583.23 0v-336.8h2v336.8zM1584.35 0v-378.9h2v378.9zM1585.47 0v-336.8h2v336.8zM1586.59 0v-336.8h2v336.8zM1587.71 0v-378.9h2v378.9zM1588.83 0v-336.8h2v336.8zM1589.96 0v-378.9h2v378.9zM1591.08 0v-294.7h2v294.7zM1592.2 0v-336.8h2v336.8zM1593.32 0v-294.7h2v294.7zM1594.44 0v-336.8h2v336.8zM1595.56 0v-336.8h2v336.8zM1596.68 0v-336.8h2v336.8zM1597.81 0v-336.8h2v336.8zM1598.93 0v-336.8h2v336.8zM1600.05 0v-421h2v421zM1601.17 0v-294.7h2v294.7zM1602.29 0v-336.8h2v336.8zM1603.41 0v-294.7h2v294.7zM1604.54 0v-294.7h2v294.7zM1605.66 0v-294.7h2v294.7zM1606.78 0v-336.8h2v336.8zM1607.9 0v-294.7h2v294.7zM1609.02 0v-294.7h2v294.7zM1610.14 0v-336.8h2v336.8zM1611.26 0v-294.7h2v294.7zM1612.39 0v-294.7h2v294.7zM1613.51 0v-294.7h2v294.7zM1614.63 0v-336.8h2v336.8zM1615.75 0v-294.7h2v294.7zM1616.87 0v-294.7h2v294.7zM1617.99 0v-294.7h2v294.7zM1619.12 0v-252.6h2v252.6zM1620.24 0v-294.7h2v294.7zM1621.36 0v-336.8h2v336.8zM1622.48 0v-294.7h2v294.7zM1623.6 0v-294.7h2v294.7zM1624.72 0v-294.7h2v294.7zM1625.84 0v-294.7h2v294.7zM1626.97 0v-294.7h2v294.7zM1628.09 0v-294.7h2v294.7zM1629.21 0v-294.7h2v294.7zM1630.33 0v-294.7h2v294.7zM1631.45 0v-336.8h2v336.8zM1632.57 0v-294.7h2v294.7zM1633.7 0v-294.7h2v294.7zM1634.82 0v-294.7h2v294.7zM1635.94 0v-294.7h2v294.7zM1637.06 0v-294.7h2v294.7zM1638.18 0v-294.7h2v294.7zM1639.3 0v-252.6h2v252.6zM1640.42 0v-294.7h2v294.7zM1641.55 0v-294.7h2v294.7zM1642.67 0v-336.8h2v336.8zM1643.79 0v-294.7h2v294.7zM1644.91 0v-294.7h2v294.7zM1646.03 0v-294.7h2v294.7zM1647.15 0v-294.7h2v294.7zM1648.27 0v-294.7h2v294.7zM1649.4 0v-294.7h2v294.7zM1650.52 0v-294.7h2v294.7zM1651.64 0v-294.7h2v294.7zM1652.76 0v-336.8h2v336.8zM1653.88 0v-294.7h2v294.7zM1655 0v-294.7h2v294.7zM1656.13 0v-294.7h2v294.7zM1657.25 0v-294.7h2v294.7zM1658.37 0v-294.7h2v294.7zM1659.49 0v-294.7h2v294.7zM1660.61 0v-294.7h2v294.7zM1661.73 0v-294.7h2v294.7zM1662.85 0v-336.8h2v336.8zM1663.98 0v-294.7h2v294.7zM1665.1 0v-252.6h2v252.6zM1666.22 0v-294.7h2v294.7zM1667.34 0v-294.7h2v294.7zM1668.46 0v-252.6h2v252.6zM1669.58 0v-294.7h2v294.7zM1670.71 0v-294.7h2v294.7zM1671.83 0v-336.8h2v336.8zM1672.95 0v-294.7h2v294.7zM1674.07 0v-294.7h2v294.7zM1675.19 0v-294.7h2v294.7z"/><path fill="#a0ecc4" d="M1676.31 0v-294.7h2v294.7zM1677.43 0v-294.7h2v294.7zM1678.56 0v-294.7h2v294.7zM1679.68 0v-294.7h2v294.7zM1680.8 0v-294.7h2v294.7zM1681.92 0v-294.7h2v294.7zM1683.04 0v-336.8h2v336.8zM1684.16 0v-294.7h2v294.7zM1685.29 0v-294.7h2v294.7zM1686.41 0v-294.7h2v294.7zM1687.53 0v-294.7h2v294.7zM1688.65 0v-294.7h2v294.7zM1689.77 0v-294.7h2v294.7zM1690.89 0v-294.7h2v294.7zM1692.01 0v-294.7h2v294.7zM1693.14 0v-294.7h2v294.7zM1694.26 0v-336.8h2v336.8zM1695.38 0v-294.7h2v294.7zM1696.5 0v-294.7h2v294.7zM1697.62 0v-294.7h2v294.7zM1698.74 0v-294.7h2v294.7zM1699.87 0v-294.7h2v294.7zM1700.99 0v-294.7h2v294.7zM1702.11 0v-294.7h2v294.7zM1703.23 0v-336.8h2v336.8zM1704.35 0v-294.7h2v294.7zM1705.47 0v-294.7h2v294.7zM1706.59 0v-294.7h2v294.7zM1707.72 0v-294.7h2v294.7zM1708.84 0v-294.7h2v294.7zM1709.96 0v-294.7h2v294.7zM1711.08 0v-252.6h2v252.6zM1712.2 0v-294.7h2v294.7zM1713.32 0v-294.7h2v294.7zM1714.45 0v-294.7h2v294.7zM1715.57 0v-336.8h2v336.8zM1716.69 0v-294.7h2v294.7zM1717.81 0v-294.7h2v294.7zM1718.93 0v-294.7h2v294.7zM1720.05 0v-294.7h2v294.7zM1721.17 0v-294.7h2v294.7zM1722.3 0v-294.7h2v294.7zM1723.42 0v-294.7h2v294.7zM1724.54 0v-336.8h2v336.8zM1725.66 0v-294.7h2v294.7zM1726.78 0v-294.7h2v294.7zM1727.9 0v-294.7h2v294.7zM1729.02 0v-294.7h2v294.7zM1730.15 0v-294.7h2v294.7zM1731.27 0v-294.7h2v294.7zM1732.39 0v-252.6h2v252.6zM1733.51 0v-336.8h2v336.8zM1734.63 0v-294.7h2v294.7zM1735.75 0v-336.8h2v336.8zM1736.88 0v-294.7h2v294.7zM1738 0v-294.7h2v294.7zM1739.12 0v-294.7h2v294.7zM1740.24 0v-294.7h2v294.7zM1741.36 0v-294.7h2v294.7zM1742.48 0v-336.8h2v336.8zM1743.6 0v-294.7h2v294.7zM1744.73 0v-294.7h2v294.7zM1745.85 0v-294.7h2v294.7zM1746.97 0v-294.7h2v294.7zM1748.09 0v-294.7h2v294.7zM1749.21 0v-294.7h2v294.7zM1750.33 0v-336.8h2v336.8zM1751.46 0v-294.7h2v294.7zM1752.58 0v-294.7h2v294.7zM1753.7 0v-294.7h2v294.7zM1754.82 0v-294.7h2v294.7zM1755.94 0v-294.7h2v294.7zM1757.06 0v-294.7h2v294.7zM1758.18 0v-294.7h2v294.7zM1759.31 0v-336.8h2v336.8zM1760.43 0v-294.7h2v294.7zM1761.55 0v-294.7h2v294.7zM1762.67 0v-294.7h2v294.7zM1763.79 0v-294.7h2v294.7zM1764.91 0v-294.7h2v294.7zM1766.04 0v-336.8h2v336.8zM1767.16 0v-294.7h2v294.7zM1768.28 0v-252.6h2v252.6zM1769.4 0v-294.7h2v294.7zM1770.52 0v-294.7h2v294.7zM1771.64 0v-294.7h2v294.7zM1772.76 0v-294.7h2v294.7zM1773.89 0v-294.7h2v294.7zM1775.01 0v-336.8h2v336.8zM1776.13 0v-294.7h2v294.7zM1777.25 0v-294.7h2v294.7zM1778.37 0v-294.7h2v294.7zM1779.49 0v-294.7h2v294.7zM1780.62 0v-294.7h2v294.7zM1781.74 0v-294.7h2v294.7zM1782.86 0v-336.8h2v336.8zM1783.98 0v-294.7h2v294.7zM1785.1 0v-294.7h2v294.7zM1786.22 0v-294.7h2v294.7zM1787.34 0v-294.7h2v294.7zM1788.47 0v-336.8h2v336.8zM1789.59 0v-294.7h2v294.7zM1790.71 0v-294.7h2v294.7zM1791.83 0v-294.7h2v294.7zM1792.95 0v-336.8h2v336.8zM1794.07 0v-294.7h2v294.7zM1795.2 0v-294.7h2v294.7zM1796.32 0v-294.7h2v294.7zM1797.44 0v-294.7h2v294.7zM1798.56 0v-294.7h2v294.7zM1799.68 0v-336.8h2v336.8zM1800.8 0v-294.7h2v294.7zM1801.92 0v-294.7h2v294.7zM1803.05 0v-294.7h2v294.7zM1804.17 0v-294.7h2v294.7zM1805.29 0v-294.7h2v294.7zM1806.41 0v-336.8h2v336.8zM1807.53 0v-294.7h2v294.7zM1808.65 0v-294.7h2v294.7zM1809.77 0v-294.7h2v294.7zM1810.9 0v-294.7h2v294.7zM1812.02 0v-294.7h2v294.7zM1813.14 0v-336.8h2v336.8zM1814.26 0v-294.7h2v294.7zM1815.38 0v-294.7h2v294.7zM1816.5 0v-294.7h2v294.7zM1817.63 0v-294.7h2v294.7zM1818.75 0v-294.7h2v294.7zM1819.87 0v-378.9h2v378.9zM1820.99 0v-294.7h2v294.7zM1822.11 0v-294.7h2v294.7zM1823.23 0v-294.7h2v294.7zM1824.35 0v-294.7h2v294.7zM1825.48 0v-294.7h2v294.7zM1826.6 0v-294.7h2v294.7zM1827.72 0v-378.9h2v378.9zM1828.84 0v-294.7h2v294.7zM1829.96 0v-294.7h2v294.7zM1831.08 0v-294.7h2v294.7zM1832.21 0v-294.7h2v294.7zM1833.33 0v-336.8h2v336.8zM1834.45 0v-294.7h2v294.7zM1835.57 0v-336.8h2v336.8zM1836.69 0v-336.8h2v336.8zM1837.81 0v-294.7h2v294.7zM1838.93 0v-378.9h2v378.9zM1840.06 0v-294.7h2v294.7zM1841.18 0v-294.7h2v294.7zM1842.3 0v-294.7h2v294.7zM1843.42 0v-294.7h2v294.7zM1844.54 0v-378.9h2v378.9zM1845.66 0v-294.7h2v294.7zM1846.79 0v-294.7h2v294.7zM1847.91 0v-336.8h2v336.8zM1849.03 0v-294.7h2v294.7zM1850.15 0v-294.7h2v294.7z"/><path fill="#238f70" d="M1851.27 0v-378.9h2v378.9zM1852.39 0v-294.7h2v294.7zM1853.51 0v-336.8h2v336.8zM1854.64 0v-294.7h2v294.7zM1855.76 0v-336.8h2v336.8zM1856.88 0v-294.7h2v294.7zM1858 0v-378.9h2v378.9zM1859.12 0v-336.8h2v336.8zM1860.24 0v-336.8h2v336.8zM1861.37 0v-294.7h2v294.7zM1862.49 0v-294.7h2v294.7zM1863.61 0v-294.7h2v294.7zM1864.73 0v-336.8h2v336.8zM1865.85 0v-294.7h2v294.7zM1866.97 0v-294.7h2v294.7zM1868.09 0v-336.8h2v336.8zM1869.22 0v-336.8h2v336.8zM1870.34 0v-336.8h2v336.8zM1871.46 0v-336.8h2v336.8zM1872.58 0v-336.8h2v336.8zM1873.7 0v-336.8h2v336.8zM1874.82 0v-294.7h2v294.7zM1875.95 0v-378.9h2v378.9zM1877.07 0v-336.8h2v336.8zM1878.19 0v-336.8h2v336.8zM1879.31 0v-336.8h2v336.8zM1880.43 0v-336.8h2v336.8zM1881.55 0v-378.9h2v378.9zM1882.67 0v-336.8h2v336.8zM1883.8 0v-294.7h2v294.7zM1884.92 0v-336.8h2v336.8zM1886.04 0v-336.8h2v336.8zM1887.16 0v-336.8h2v336.8zM1888.28 0v-294.7h2v294.7zM1889.4 0v-294.7h2v294.7zM1890.52 0v-294.7h2v294.7zM1891.65 0v-336.8h2v336.8zM1892.77 0v-336.8h2v336.8zM1893.89 0v-336.8h2v336.8zM1895.01 0v-294.7h2v294.7zM1896.13 0v-336.8h2v336.8zM1897.25 0v-336.8h2v336.8zM1898.38 0v-336.8h2v336.8zM1899.5 0v-336.8h2v336.8zM1900.62 0v-294.7h2v294.7zM1901.74 0v-336.8h2v336.8zM1902.86 0v-294.7h2v294.7zM1903.98 0v-336.8h2v336.8zM1905.1 0v-294.7h2v294.7zM1906.23 0v-336.8h2v336.8zM1907.35 0v-336.8h2v336.8zM1908.47 0v-294.7h2v294.7zM1909.59 0v-336.8h2v336.8zM1910.71 0v-294.7h2v294.7zM1911.83 0v-294.7h2v294.7zM1912.96 0v-294.7h2v294.7zM1914.08 0v-294.7h2v294.7zM1915.2 0v-294.7h2v294.7zM1916.32 0v-294.7h2v294.7zM1917.44 0v-336.8h2v336.8zM1918.56 0v-294.7h2v294.7zM1919.68 0v-294.7h2v294.7zM1920.81 0v-294.7h2v294.7zM1921.93 0v-294.7h2v294.7zM1923.05 0v-294.7h2v294.7zM1924.17 0v-252.6h2v252.6zM1925.29 0v-294.7h2v294.7zM1926.41 0v-294.7h2v294.7zM1927.54 0v-252.6h2v252.6zM1928.66 0v-294.7h2v294.7zM1929.78 0v-294.7h2v294.7zM1930.9 0v-294.7h2v294.7zM1932.02 0v-252.6h2v252.6zM1933.14 0v-294.7h2v294.7zM1934.26 0v-294.7h2v294.7zM1935.39 0v-252.6h2v252.6zM1936.51 0v-294.7h2v294.7zM1937.63 0v-294.7h2v294.7zM1938.75 0v-252.6h2v252.6zM1939.87 0v-294.7h2v294.7zM1940.99 0v-294.7h2v294.7zM1942.12 0v-294.7h2v294.7zM1943.24 0v-294.7h2v294.7zM1944.36 0v-252.6h2v252.6zM1945.48 0v-294.7h2v294.7zM1946.6 0v-294.7h2v294.7zM1947.72 0v-252.6h2v252.6zM1948.84 0v-252.6h2v252.6zM1949.97 0v-252.6h2v252.6zM1951.09 0v-252.6h2v252.6zM1952.21 0v-252.6h2v252.6zM1953.33 0v-42.1h2v42.1zM1954.45 0v-84.2h2v84.2zM1955.57 0v-84.2h2v84.2zM1956.7 0v-42.1h2v42.1zM1957.82 0v-42.1h2v42.1zM1958.94 0v-42.1h2v42.1zM1960.06 0v-42.1h2v42.1zM1961.18 0v-42.1h2v42.1zM1962.3 0v-42.1h2v42.1zM1963.42 0v-42.1h2v42.1zM1964.55 0v-42.1h2v42.1zM1965.67 0v-42.1h2v42.1zM1966.79 0v-42.1h2v42.1zM1967.91 0v-42.1h2v42.1zM1969.03 0v-42.1h2v42.1zM1970.15 0v-42.1h2v42.1zM1971.27 0v-42.1h2v42.1zM1972.4 0v-42.1h2v42.1zM1973.52 0v-42.1h2v42.1zM1974.64 0v-84.2h2v84.2zM1975.76 0v-42.1h2v42.1zM1976.88 0v-42.1h2v42.1zM1978 0v-42.1h2v42.1zM1979.13 0v-42.1h2v42.1zM1980.25 0v-42.1h2v42.1zM1981.37 0v-42.1h2v42.1zM1982.49 0v-42.1h2v42.1zM1983.61 0v-42.1h2v42.1zM1984.73 0v-42.1h2v42.1zM1985.85 0v-42.1h2v42.1zM1986.98 0v-84.2h2v84.2zM1988.1 0v-42.1h2v42.1zM1989.22 0v-42.1h2v42.1zM1990.34 0v-42.1h2v42.1zM1991.46 0v-42.1h2v42.1zM1992.58 0v-84.2h2v84.2zM1993.71 0v-42.1h2v42.1zM1994.83 0v-42.1h2v42.1zM1995.95 0v-42.1h2v42.1zM1997.07 0v-84.2h2v84.2zM1998.19 0v-84.2h2v84.2z"/><path fill="#a0ecc4" d="M1999.31 0v-84.2h2v84.2zM2000.43 0v-84.2h2v84.2zM2001.56 0v-84.2h2v84.2zM2002.68 0v-84.2h2v84.2zM2003.8 0v-84.2h2v84.2zM2004.92 0v-84.2h2v84.2zM2006.04 0v-84.2h2v84.2zM2007.16 0v-84.2h2v84.2zM2008.29 0v-84.2h2v84.2zM2009.41 0v-84.2h2v84.2zM2010.53 0v-84.2h2v84.2zM2011.65 0v-84.2h2v84.2zM2012.77 0v-84.2h2v84.2zM2013.89 0v-42.1h2v42.1zM2015.01 0v-84.2h2v84.2zM2016.14 0v-84.2h2v84.2zM2017.26 0v-84.2h2v84.2zM2018.38 0v-84.2h2v84.2zM2019.5 0v-84.2h2v84.2zM2020.62 0v-84.2h2v84.2zM2021.74 0v-84.2h2v84.2zM2022.87 0v-84.2h2v84.2zM2023.99 0v-84.2h2v84.2zM2025.11 0v-42.1h2v42.1zM2026.23 0v-84.2h2v84.2zM2027.35 0v-42.1h2v42.1zM2028.47 0v-84.2h2v84.2zM2029.59 0v-84.2h2v84.2zM2030.72 0v-84.2h2v84.2zM2031.84 0v-84.2h2v84.2zM2032.96 0v-84.2h2v84.2zM2034.08 0v-84.2h2v84.2zM2035.2 0v-84.2h2v84.2zM2036.32 0v-84.2h2v84.2zM2037.45 0v-84.2h2v84.2zM2038.57 0v-126.3h2v126.3zM2039.69 0v-84.2h2v84.2zM2040.81 0v-84.2h2v84.2zM2041.93 0v-84.2h2v84.2zM2043.05 0v-84.2h2v84.2zM2044.17 0v-84.2h2v84.2zM2045.3 0v-84.2h2v84.2zM2046.42 0v-84.2h2v84.2zM2047.54 0v-84.2h2v84.2zM2048.66 0v-126.3h2v126.3zM2049.78 0v-84.2h2v84.2zM2050.9 0v-84.2h2v84.2zM2052.02 0v-126.3h2v126.3zM2053.15 0v-126.3h2v126.3zM2054.27 0v-84.2h2v84.2zM2055.39 0v-84.2h2v84.2zM2056.51 0v-84.2h2v84.2zM2057.63 0v-84.2h2v84.2zM2058.75 0v-84.2h2v84.2zM2059.88 0v-126.3h2v126.3zM2061 0v-84.2h2v84.2zM2062.12 0v-84.2h2v84.2zM2063.24 0v-126.3h2v126.3zM2064.36 0v-84.2h2v84.2zM2065.48 0v-84.2h2v84.2zM2066.6 0v-84.2h2v84.2zM2067.73 0v-84.2h2v84.2zM2068.85 0v-126.3h2v126.3zM2069.97 0v-126.3h2v126.3zM2071.09 0v-126.3h2v126.3zM2072.21 0v-84.2h2v84.2zM2073.33 0v-84.2h2v84.2zM2074.46 0v-84.2h2v84.2zM2075.58 0v-126.3h2v126.3zM2076.7 0v-126.3h2v126.3zM2077.82 0v-168.4h2v168.4zM2078.94 0v-84.2h2v84.2zM2080.06 0v-126.3h2v126.3zM2081.18 0v-126.3h2v126.3zM2082.31 0v-126.3h2v126.3zM2083.43 0v-126.3h2v126.3zM2084.55 0v-84.2h2v84.2zM2085.67 0v-84.2h2v84.2zM2086.79 0v-126.3h2v126.3zM2087.91 0v-126.3h2v126.3zM2089.04 0v-126.3h2v126.3zM2090.16 0v-126.3h2v126.3zM2091.28 0v-126.3h2v126.3zM2092.4 0v-126.3h2v126.3z"/></g><path d="M155 814.8V1321" stroke="#737373" stroke-width="2.2" fill="none"/><path d="M143.5 1320.5H154.4M143.5 1236.3H154.4M143.5 1152.1H154.4M143.5 1067.9H154.4M143.5 983.7H154.4M143.5 899.5H154.4M143.5 815.3H154.4" stroke="#8c8c8c" stroke-width="1.3" fill="none"/><path d="M154.4 1320.8H2416.5" stroke="#737373" stroke-width="1.6" fill="none"/><path d="M155.7 1321.3v10.5M478.7 1321.3v10.5M801.7 1321.3v10.5M1124.7 1321.3v10.5M1447.7 1321.3v10.5M1770.7 1321.3v10.5M2093.7 1321.3v10.5" stroke="#a8a8a8" stroke-width="1.3" fill="none"/></svg>
<div class="lbl ax" style="left:119.5px;top:60.63px;font-size:16.5px;color:#333;transform-origin:100% 50%;transform:translate(-100%,0) scaleX(1.14);">1</div><div class="lbl ax" style="left:119.5px;top:664.33px;font-size:16.5px;color:#333;transform-origin:100% 50%;transform:translate(-100%,0) scaleX(1.14);">0</div><div class="lbl ax" style="left:142.4px;top:692.83px;font-size:16.5px;color:#111;transform:translate(-50%,0) scaleX(1.14);letter-spacing:0.2px;">0h</div><div class="lbl ax" style="left:236.52px;top:692.83px;font-size:16.5px;color:#111;transform:translate(-50%,0) scaleX(1.14);letter-spacing:0.2px;">1h</div><div class="lbl ax" style="left:330.64px;top:692.83px;font-size:16.5px;color:#111;transform:translate(-50%,0) scaleX(1.14);letter-spacing:0.2px;">2h</div><div class="lbl ax" style="left:424.76px;top:692.83px;font-size:16.5px;color:#111;transform:translate(-50%,0) scaleX(1.14);letter-spacing:0.2px;">3h</div><div class="lbl ax" style="left:518.88px;top:692.83px;font-size:16.5px;color:#111;transform:translate(-50%,0) scaleX(1.14);letter-spacing:0.2px;">4h</div><div class="lbl ax" style="left:613px;top:692.83px;font-size:16.5px;color:#111;transform:translate(-50%,0) scaleX(1.14);letter-spacing:0.2px;">5h</div><div class="lbl ax" style="left:707.12px;top:692.83px;font-size:16.5px;color:#111;transform:translate(-50%,0) scaleX(1.14);letter-spacing:0.2px;">6h</div><div class="lbl ax" style="left:801.24px;top:692.83px;font-size:16.5px;color:#111;transform:translate(-50%,0) scaleX(1.14);letter-spacing:0.2px;">7h</div><div class="lbl ax" style="left:895.36px;top:692.83px;font-size:16.5px;color:#111;transform:translate(-50%,0) scaleX(1.14);letter-spacing:0.2px;">8h</div><div class="lbl ax" style="left:989.48px;top:692.83px;font-size:16.5px;color:#111;transform:translate(-50%,0) scaleX(1.14);letter-spacing:0.2px;">9h</div><div class="lbl ax" style="left:1083.6px;top:692.83px;font-size:16.5px;color:#111;transform:translate(-50%,0) scaleX(1.14);letter-spacing:0.2px;">10h</div><div class="lbl ax" style="left:1177.72px;top:692.83px;font-size:16.5px;color:#111;transform:translate(-50%,0) scaleX(1.14);letter-spacing:0.2px;">11h</div><div class="lbl ax" style="left:1271.84px;top:692.83px;font-size:16.5px;color:#111;transform:translate(-50%,0) scaleX(1.14);letter-spacing:0.2px;">12h</div><div class="lbl ax" style="left:1365.96px;top:692.83px;font-size:16.5px;color:#111;transform:translate(-50%,0) scaleX(1.14);letter-spacing:0.2px;">13h</div><div class="lbl ax" style="left:1460.08px;top:692.83px;font-size:16.5px;color:#111;transform:translate(-50%,0) scaleX(1.14);letter-spacing:0.2px;">14h</div><div class="lbl ax" style="left:1554.2px;top:692.83px;font-size:16.5px;color:#111;transform:translate(-50%,0) scaleX(1.14);letter-spacing:0.2px;">15h</div><div class="lbl ax" style="left:1648.32px;top:692.83px;font-size:16.5px;color:#111;transform:translate(-50%,0) scaleX(1.14);letter-spacing:0.2px;">16h</div><div class="lbl ax" style="left:1742.44px;top:692.83px;font-size:16.5px;color:#111;transform:translate(-50%,0) scaleX(1.14);letter-spacing:0.2px;">17h</div><div class="lbl ax" style="left:1836.56px;top:692.83px;font-size:16.5px;color:#111;transform:translate(-50%,0) scaleX(1.14);letter-spacing:0.2px;">18h</div><div class="lbl ax" style="left:1930.68px;top:692.83px;font-size:16.5px;color:#111;transform:translate(-50%,0) scaleX(1.14);letter-spacing:0.2px;">19h</div><div class="lbl ax" style="left:2024.8px;top:692.83px;font-size:16.5px;color:#111;transform:translate(-50%,0) scaleX(1.14);letter-spacing:0.2px;">20h</div><div class="lbl ax" style="left:2118.92px;top:692.83px;font-size:16.5px;color:#111;transform:translate(-50%,0) scaleX(1.14);letter-spacing:0.2px;">21h</div><div class="lbl ax" style="left:2213.04px;top:692.83px;font-size:16.5px;color:#111;transform:translate(-50%,0) scaleX(1.14);letter-spacing:0.2px;">22h</div><div class="lbl ax" style="left:2307.16px;top:692.83px;font-size:16.5px;color:#111;transform:translate(-50%,0) scaleX(1.14);letter-spacing:0.2px;">23h</div><div class="lbl ax" style="left:2401.28px;top:692.83px;font-size:16.5px;color:#111;transform:translate(-50%,0) scaleX(1.14);letter-spacing:0.2px;">0h</div><div class="lbl ax" style="left:133.6px;top:1310.17px;font-size:20px;color:#333;transform-origin:100% 50%;transform:translate(-100%,0) scaleX(1.14);">0</div><div class="lbl ax" style="left:133.6px;top:1225.97px;font-size:20px;color:#333;transform-origin:100% 50%;transform:translate(-100%,0) scaleX(1.14);">2</div><div class="lbl ax" style="left:133.6px;top:1141.77px;font-size:20px;color:#333;transform-origin:100% 50%;transform:translate(-100%,0) scaleX(1.14);">4</div><div class="lbl ax" style="left:133.6px;top:1057.57px;font-size:20px;color:#333;transform-origin:100% 50%;transform:translate(-100%,0) scaleX(1.14);">6</div><div class="lbl ax" style="left:133.6px;top:973.37px;font-size:20px;color:#333;transform-origin:100% 50%;transform:translate(-100%,0) scaleX(1.14);">8</div><div class="lbl ax" style="left:133.6px;top:889.17px;font-size:20px;color:#333;transform-origin:100% 50%;transform:translate(-100%,0) scaleX(1.14);">10</div><div class="lbl ax" style="left:133.6px;top:804.97px;font-size:20px;color:#333;transform-origin:100% 50%;transform:translate(-100%,0) scaleX(1.14);">12</div><div class="lbl ax" style="left:156.3px;top:1339.77px;font-size:20px;color:#000;transform:translate(-50%,0) scaleX(1.15);letter-spacing:0.25px;">dim. 25</div><div class="lbl ax" style="left:479.3px;top:1339.77px;font-size:20px;color:#000;transform:translate(-50%,0) scaleX(1.15);letter-spacing:0.25px;">lun. 26</div><div class="lbl ax" style="left:802.3px;top:1339.77px;font-size:20px;color:#000;transform:translate(-50%,0) scaleX(1.15);letter-spacing:0.25px;">mar. 27</div><div class="lbl ax" style="left:1125.3px;top:1339.77px;font-size:20px;color:#000;transform:translate(-50%,0) scaleX(1.15);letter-spacing:0.25px;">mer. 28</div><div class="lbl ax" style="left:1448.3px;top:1339.77px;font-size:20px;color:#000;transform:translate(-50%,0) scaleX(1.15);letter-spacing:0.25px;">jeu. 29</div><div class="lbl ax" style="left:1771.3px;top:1339.77px;font-size:20px;color:#000;transform:translate(-50%,0) scaleX(1.15);letter-spacing:0.25px;">ven. 30</div><div class="lbl ax" style="left:2094.3px;top:1339.77px;font-size:20px;color:#000;transform:translate(-50%,0) scaleX(1.15);letter-spacing:0.25px;">sam. 31</div><div class="lbl" style="left:78.9px;top:370.3px;font-size:23.5px;color:#444;transform:translate(-50%,-50%) rotate(-90deg) scaleX(.885);">kW</div><div class="lbl" style="left:78.9px;top:1067.4px;font-size:23.5px;color:#444;transform:translate(-50%,-50%) rotate(-90deg) scaleX(.885);">kW</div>
<!-- ===== title + stat boxes (top) ===== -->
<div class="abs" style="left:1990px;top:60px;width:415.5px;height:37.6px;background:#fff;border-radius:0 0 9px 9px;"></div>
<div class="lbl" style="left:2198.3px;top:68.8px;font-size:24px;font-weight:bold;color:#000;transform:translate(-50%,0);letter-spacing:.9px">LHB-site-L668</div>
<div class="box" style="left:1990.2px;top:106.3px;width:415px;height:61.2px;line-height:59px;padding-left:20px">Consommation: - kWh</div>
<div class="box" style="left:1990.2px;top:176.1px;width:415px;height:61.4px;line-height:59px;padding-left:20px">P Max :  - kW</div>
<div class="box" style="left:1990.2px;top:246.2px;width:415px;height:61.4px;line-height:59px;padding-left:20px">P min : - kW</div>
<!-- ===== date ===== -->
<div class="abs" style="left:1048px;top:542px;width:522px;height:70.3px;background:#fff;border-radius:10px;"></div>
<div class="lbl" style="left:1314.2px;top:563.2px;font-size:31px;font-weight:bold;color:#1a1a1a;transform:translate(-50%,0);letter-spacing:.9px;">samedi 31 janvier 2026</div>
<!-- ===== stat boxes (bottom) ===== -->
<div class="box" style="left:560.5px;top:804.6px;width:415.4px;height:61.2px;line-height:59px;padding-left:19px">Consommation: 1 134 kWh</div>
<div class="box" style="left:1098.2px;top:804.6px;width:415.8px;height:61.2px;line-height:59px;padding-left:20px">P Max :  10 kW</div>
<div class="box" style="left:1608px;top:804.6px;width:416.6px;height:61.2px;line-height:59px;padding-left:19px">P min : 1 kW</div>

<!-- ===== ecowatt banner ===== -->
<svg style="left:176.5px;top:49px" width="481.6" height="77.6" viewBox="0 0 481.6 77.6">
<defs>
<linearGradient id="eg" x1="0" y1="0" x2="0" y2="1"><stop offset="0" stop-color="#00efc8"/><stop offset=".52" stop-color="#00efc8"/><stop offset=".56" stop-color="#00b89b"/><stop offset="1" stop-color="#00d9b6"/></linearGradient>
<clipPath id="globe"><circle cx="447.7" cy="38.2" r="8.8"/></clipPath>
</defs>
<rect width="481.6" height="77.6" fill="#0a0818"/>
<!-- eco -->
<g fill="none" stroke="url(#eg)" stroke-width="7.1" stroke-linecap="round" stroke-linejoin="round">
<path d="M15.8 43.2H34A9.4 11.8 0 1 0 32 53.6"/>
<path d="M60.4 38.2A9.4 11.8 0 1 0 60.4 53.4"/>
<ellipse cx="80.6" cy="45.8" rx="9.9" ry="11.8"/>
</g>
<path d="M21.6 25.2L29.2 21.9" stroke="#00efc8" stroke-width="6" stroke-linecap="round" fill="none"/>
<!-- Watt -->
<g fill="none" stroke="#fff" stroke-width="8" stroke-linecap="round" stroke-linejoin="round">
<path d="M98.8 38.4L107 59L115.6 33L123.2 59L137.6 18.8"/>
<path d="M159.2 37.8V57.2"/>
<path d="M170.2 27.4V53Q170.2 57.6 176 57.2"/>
<path d="M168 33.3H193.2"/>
<path d="M185.2 27.4V53Q185.2 57.6 190.6 57.2"/>
</g>
<ellipse cx="147.6" cy="47.6" rx="12.8" ry="13.7" fill="#fff"/>
<ellipse cx="147.4" cy="50.6" rx="5.6" ry="4.1" fill="#0a0818"/>
<!-- Rte -->
<ellipse cx="257" cy="40" rx="25.8" ry="28" fill="#00b3e3"/>
<text x="241.6" y="47.2" font-size="24" fill="#fff" textLength="31.5" lengthAdjust="spacingAndGlyphs">Rte</text>
<path d="M242 47.2H274" stroke="#fff" stroke-width="1.3"/>
<g font-size="11.7" fill="#0f8fc0" stroke="#0f8fc0" stroke-width=".25"><text x="291.6" y="30">Le réseau</text><text x="291.6" y="43.3">de transport</text><text x="291.6" y="56.4">d’électricité</text></g>
<!-- RF + ADEME -->
<rect x="370" y="12.2" width="100.6" height="55.9" fill="#fff"/>
<rect x="376.4" y="19.7" width="8.4" height="7" fill="#2b3a8c"/><rect x="386.9" y="19.7" width="8.4" height="7" fill="#e1000f"/>
<g font-size="8.3" font-weight="bold" fill="#222"><text x="376.2" y="36" textLength="44" lengthAdjust="spacingAndGlyphs">RÉPUBLIQUE</text><text x="376.2" y="44.5" textLength="40.5" lengthAdjust="spacingAndGlyphs">FRANÇAISE</text></g>
<g font-size="3.6" font-style="italic" fill="#555"><text x="376.4" y="50.8">Liberté</text><text x="376.4" y="55.7">Égalité</text><text x="376.4" y="60.8">Fraternité</text></g>
<rect x="430.3" y="17.2" width="35.6" height="45.6" fill="#fff" stroke="#3c6cb5" stroke-width=".9"/>
<text x="434.8" y="26" font-size="6.6" font-weight="bold" fill="#e2231a" textLength="25.8" lengthAdjust="spacing">ADEME</text>
<circle cx="447.7" cy="38.2" r="8.8" fill="#2a4fa6"/>
<g clip-path="url(#globe)" fill="#8fa3dc"><path d="M441 33q3-3 6-2l-1 4 3 2-2 5-3 1-1-4z"/><path d="M449 30l5 2 2 5-3 1-2-3z"/><path d="M446 43l4 1 1 4-4 1z"/></g>
<g font-size="3" font-weight="bold" fill="#e2231a"><text x="434.8" y="52.5" textLength="25.8" lengthAdjust="spacingAndGlyphs">AGENCE DE LA</text><text x="434.8" y="56" textLength="25.8" lengthAdjust="spacingAndGlyphs">TRANSITION</text><text x="434.8" y="59.6" textLength="25.8" lengthAdjust="spacingAndGlyphs">ÉCOLOGIQUE</text></g>
</svg>

<!-- ===== J table ===== -->
<div class="abs" style="left:169.2px;top:135.7px;width:491.6px;height:123.2px;background:#dbdbdb"></div>
<div class="abs" style="left:172.5px;top:139.1px;width:116.8px;height:50.1px;background:#f2f2f2"></div>
<div class="abs" style="left:294.3px;top:139.1px;width:117.2px;height:50.1px;background:#f2f2f2"></div>
<div class="abs" style="left:416.6px;top:139.1px;width:116.6px;height:50.1px;background:#f2f2f2"></div>
<div class="abs" style="left:538.6px;top:139.1px;width:117px;height:50.1px;background:#f2f2f2"></div>
<div class="abs" style="left:172.5px;top:194.8px;width:116.8px;height:58.4px;background:#f2f2f2"></div>
<div class="abs" style="left:294.3px;top:194.8px;width:117.2px;height:58.4px;background:#f2f2f2"></div>
<div class="abs" style="left:416.6px;top:194.8px;width:116.6px;height:58.4px;background:#f2f2f2"></div>
<div class="abs" style="left:538.6px;top:194.8px;width:117px;height:58.4px;background:#f2f2f2"></div>
<svg width="2511" height="300" viewBox="0 0 2511 300">
<defs>
<linearGradient id="wg" x1="0" y1="0" x2="0" y2="1"><stop offset="0" stop-color="#00d2b2"/><stop offset="1" stop-color="#00b499"/></linearGradient>
<g id="wave"><rect width="106.2" height="55.6" fill="url(#wg)"/>
<path d="M14 0C40 8 50 24.5 74 24.5C88 24.5 98 19 106.2 15.5V0z" fill="#00efcb"/>
<path d="M28.5 0C48 4 56 10.2 72 10.2C86 10.2 98 6.5 106.2 3.2V0z" fill="#00a088"/></g>
</defs>
<use href="#wave" x="180" y="194.9"/><use href="#wave" x="301.8" y="196.2"/><use href="#wave" x="424" y="196.2"/><use href="#wave" x="544" y="196.2"/>
<g font-size="33" fill="#000" stroke="#000" stroke-width=".5">
<text x="222.2" y="174.8">J</text>
<text x="311.8" y="174.8">J</text><text x="344.2" y="172.5" font-size="30">+</text><path d="M380.8 158.6L387.7 152.2V175" fill="none" stroke="#000" stroke-width="2.5" stroke-linejoin="miter"/>
<text x="433.7" y="174.8">J</text><text x="466.2" y="172.5" font-size="30">+</text><text x="499.3" y="174.8" stroke-width="1.3">2</text>
<text x="555.4" y="174.8">J</text><text x="587.9" y="172.5" font-size="30">+</text><text x="621.3" y="174.8" stroke-width=".9">3</text>
</g>
</svg>

<!-- ===== G2E logo ===== -->
<div class="abs" style="left:2322.3px;top:1322.4px;width:115.5px;height:57px;background:#fff"></div>
<svg style="left:2316px;top:1316px" width="130" height="70" viewBox="0 0 2511 1352">
<g fill="none" stroke="#0a71b9" stroke-width="98" stroke-linecap="round" stroke-linejoin="round">
<path d="M878 530A242 242 0 1 0 885 675H655"/>
<path d="M1045 670Q1010 480 1165 478Q1300 480 1292 610Q1285 690 1105 860H1300" stroke-linecap="butt"/>
</g>
<path d="M1000 912L1080 815H1345V912z" fill="#0a71b9"/>
<path d="M1475 165L1305 430L1455 482L1415 905L1620 430L1465 375L1490 175z" fill="#ea5b27"/>
<path d="M1690 445H2095L1985 555H1640z" fill="#f39220"/>
<path d="M1615 620H1975L1880 735H1565z" fill="#f39220"/>
<path d="M1535 795H1950L1840 910H1485z" fill="#f39220"/>
<text x="1492" y="360" font-size="140" font-weight="bold" fill="#ea5b27" textLength="590" lengthAdjust="spacingAndGlyphs">FRANCE</text>
<text x="455" y="1012" font-size="62" fill="#3d8fcc" textLength="1440" lengthAdjust="spacingAndGlyphs">Optimisation des ressources énergétiques</text>
</svg>
<!-- frame -->
<div class="abs" style="left:2510px;top:0;width:1px;height:1415px;background:#000"></div>
<div class="abs" style="left:0;top:1414px;width:2511px;height:1px;background:#000"></div>
</body></html>
